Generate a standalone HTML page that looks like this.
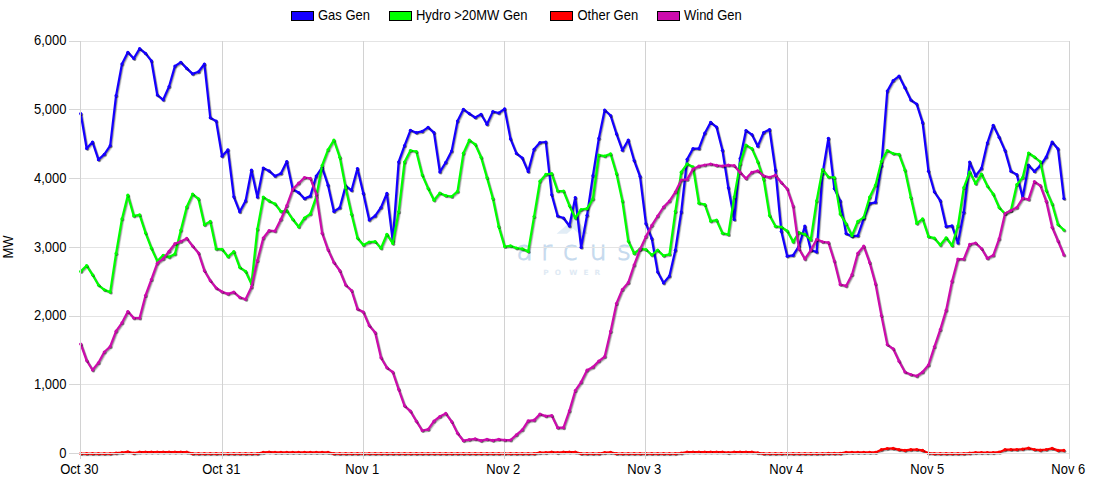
<!DOCTYPE html>
<html><head><meta charset="utf-8"><title>Generation Chart</title>
<style>
html,body{margin:0;padding:0;background:#fff;}
body{width:1100px;height:500px;overflow:hidden;position:relative;}
svg{position:absolute;left:0;top:0;display:block;}
</style></head><body>
<svg width="1100" height="500" viewBox="0 0 1100 500">
<polygon points="556.5,233.8 575.5,217.5 588,233.8 579,233.8 573,228.5 567,233.8" fill="#e2edf6"/>
<text x="516.6 541.1 563.1 589.7 617.1" y="260" font-family="'DejaVu Sans', sans-serif" font-weight="200" font-size="26.7" fill="#c6daee" stroke="#c6daee" stroke-width="0.9">arcus</text>
<text x="543.2 554.8 569.2 583.4 594.6" y="274.6" font-family="'DejaVu Sans', sans-serif" font-weight="bold" font-size="7.3" fill="#e0eaf4">POWER</text>
<polyline points="80.75,453.60 86.64,453.60 92.52,453.60 98.41,453.60 104.30,453.60 110.19,453.60 116.07,453.00 121.96,452.60 127.85,451.80 133.73,453.10 139.62,452.20 145.51,452.20 151.39,452.20 157.28,452.20 163.17,452.20 169.06,452.20 174.94,452.20 180.83,452.20 186.72,452.20 192.60,453.60 198.49,453.60 204.38,453.60 210.26,453.60 216.15,453.60 222.04,453.60 227.92,453.60 233.81,453.60 239.70,453.60 245.59,453.60 251.47,453.60 257.36,453.60 263.25,452.40 269.13,452.00 275.02,452.40 280.91,452.40 286.79,452.40 292.68,452.40 298.57,452.40 304.46,452.40 310.34,452.40 316.23,452.40 322.12,452.40 328.00,452.40 333.89,453.60 339.78,453.60 345.66,453.60 351.55,453.60 357.44,453.60 363.33,453.60 369.21,453.60 375.10,453.60 380.99,453.60 386.87,453.60 392.76,453.60 398.65,453.60 404.53,453.60 410.42,453.60 416.31,453.60 422.20,453.60 428.08,453.60 433.97,453.60 439.86,453.60 445.74,453.60 451.63,453.60 457.52,453.60 463.40,453.60 469.29,453.60 475.18,453.60 481.07,453.60 486.95,453.60 492.84,453.60 498.73,453.60 504.61,453.60 510.50,453.60 516.39,453.60 522.27,453.60 528.16,453.60 534.05,453.60 539.94,452.70 545.82,452.70 551.71,452.00 557.60,452.70 563.48,452.10 569.37,452.10 575.26,452.10 581.14,453.60 587.03,453.60 592.92,453.60 598.81,453.60 604.69,452.70 610.58,452.40 616.47,453.60 622.35,453.60 628.24,453.60 634.13,453.60 640.01,453.60 645.90,453.60 651.79,453.60 657.68,453.60 663.56,453.60 669.45,453.60 675.34,453.60 681.22,453.00 687.11,452.10 693.00,452.10 698.88,452.10 704.77,452.10 710.66,452.10 716.55,452.10 722.43,452.10 728.32,452.70 734.21,452.10 740.09,452.10 745.98,452.10 751.87,452.10 757.75,452.80 763.64,453.60 769.53,453.60 775.42,453.60 781.30,453.60 787.19,453.60 793.08,453.60 798.96,453.60 804.85,453.60 810.74,453.60 816.62,453.60 822.51,453.60 828.40,453.40 834.29,453.40 840.17,453.40 846.06,452.40 851.95,452.40 857.83,452.40 863.72,452.40 869.61,452.40 875.49,452.40 881.38,449.70 887.27,448.50 893.16,448.40 899.04,449.70 904.93,450.40 910.82,449.70 916.70,449.50 922.59,450.40 928.48,453.20 934.36,453.60 940.25,453.60 946.14,453.60 952.03,453.60 957.91,453.60 963.80,453.60 969.69,453.20 975.57,452.70 981.46,452.70 987.35,452.70 993.23,452.70 999.12,452.20 1005.01,449.70 1010.90,449.50 1016.78,449.50 1022.67,449.10 1028.56,448.10 1034.44,449.50 1040.33,450.20 1046.22,449.50 1052.11,448.40 1057.99,450.40 1063.88,450.40" transform="translate(0.70,0.70)" fill="none" stroke="#000" stroke-opacity="0.3" stroke-width="2.25" stroke-linejoin="round" stroke-linecap="round"/>
<polyline points="80.75,453.60 86.64,453.60 92.52,453.60 98.41,453.60 104.30,453.60 110.19,453.60 116.07,453.00 121.96,452.60 127.85,451.80 133.73,453.10 139.62,452.20 145.51,452.20 151.39,452.20 157.28,452.20 163.17,452.20 169.06,452.20 174.94,452.20 180.83,452.20 186.72,452.20 192.60,453.60 198.49,453.60 204.38,453.60 210.26,453.60 216.15,453.60 222.04,453.60 227.92,453.60 233.81,453.60 239.70,453.60 245.59,453.60 251.47,453.60 257.36,453.60 263.25,452.40 269.13,452.00 275.02,452.40 280.91,452.40 286.79,452.40 292.68,452.40 298.57,452.40 304.46,452.40 310.34,452.40 316.23,452.40 322.12,452.40 328.00,452.40 333.89,453.60 339.78,453.60 345.66,453.60 351.55,453.60 357.44,453.60 363.33,453.60 369.21,453.60 375.10,453.60 380.99,453.60 386.87,453.60 392.76,453.60 398.65,453.60 404.53,453.60 410.42,453.60 416.31,453.60 422.20,453.60 428.08,453.60 433.97,453.60 439.86,453.60 445.74,453.60 451.63,453.60 457.52,453.60 463.40,453.60 469.29,453.60 475.18,453.60 481.07,453.60 486.95,453.60 492.84,453.60 498.73,453.60 504.61,453.60 510.50,453.60 516.39,453.60 522.27,453.60 528.16,453.60 534.05,453.60 539.94,452.70 545.82,452.70 551.71,452.00 557.60,452.70 563.48,452.10 569.37,452.10 575.26,452.10 581.14,453.60 587.03,453.60 592.92,453.60 598.81,453.60 604.69,452.70 610.58,452.40 616.47,453.60 622.35,453.60 628.24,453.60 634.13,453.60 640.01,453.60 645.90,453.60 651.79,453.60 657.68,453.60 663.56,453.60 669.45,453.60 675.34,453.60 681.22,453.00 687.11,452.10 693.00,452.10 698.88,452.10 704.77,452.10 710.66,452.10 716.55,452.10 722.43,452.10 728.32,452.70 734.21,452.10 740.09,452.10 745.98,452.10 751.87,452.10 757.75,452.80 763.64,453.60 769.53,453.60 775.42,453.60 781.30,453.60 787.19,453.60 793.08,453.60 798.96,453.60 804.85,453.60 810.74,453.60 816.62,453.60 822.51,453.60 828.40,453.40 834.29,453.40 840.17,453.40 846.06,452.40 851.95,452.40 857.83,452.40 863.72,452.40 869.61,452.40 875.49,452.40 881.38,449.70 887.27,448.50 893.16,448.40 899.04,449.70 904.93,450.40 910.82,449.70 916.70,449.50 922.59,450.40 928.48,453.20 934.36,453.60 940.25,453.60 946.14,453.60 952.03,453.60 957.91,453.60 963.80,453.60 969.69,453.20 975.57,452.70 981.46,452.70 987.35,452.70 993.23,452.70 999.12,452.20 1005.01,449.70 1010.90,449.50 1016.78,449.50 1022.67,449.10 1028.56,448.10 1034.44,449.50 1040.33,450.20 1046.22,449.50 1052.11,448.40 1057.99,450.40 1063.88,450.40" transform="translate(1.40,1.40)" fill="none" stroke="#000" stroke-opacity="0.15" stroke-width="2.25" stroke-linejoin="round" stroke-linecap="round"/>
<polyline points="80.75,453.60 86.64,453.60 92.52,453.60 98.41,453.60 104.30,453.60 110.19,453.60 116.07,453.00 121.96,452.60 127.85,451.80 133.73,453.10 139.62,452.20 145.51,452.20 151.39,452.20 157.28,452.20 163.17,452.20 169.06,452.20 174.94,452.20 180.83,452.20 186.72,452.20 192.60,453.60 198.49,453.60 204.38,453.60 210.26,453.60 216.15,453.60 222.04,453.60 227.92,453.60 233.81,453.60 239.70,453.60 245.59,453.60 251.47,453.60 257.36,453.60 263.25,452.40 269.13,452.00 275.02,452.40 280.91,452.40 286.79,452.40 292.68,452.40 298.57,452.40 304.46,452.40 310.34,452.40 316.23,452.40 322.12,452.40 328.00,452.40 333.89,453.60 339.78,453.60 345.66,453.60 351.55,453.60 357.44,453.60 363.33,453.60 369.21,453.60 375.10,453.60 380.99,453.60 386.87,453.60 392.76,453.60 398.65,453.60 404.53,453.60 410.42,453.60 416.31,453.60 422.20,453.60 428.08,453.60 433.97,453.60 439.86,453.60 445.74,453.60 451.63,453.60 457.52,453.60 463.40,453.60 469.29,453.60 475.18,453.60 481.07,453.60 486.95,453.60 492.84,453.60 498.73,453.60 504.61,453.60 510.50,453.60 516.39,453.60 522.27,453.60 528.16,453.60 534.05,453.60 539.94,452.70 545.82,452.70 551.71,452.00 557.60,452.70 563.48,452.10 569.37,452.10 575.26,452.10 581.14,453.60 587.03,453.60 592.92,453.60 598.81,453.60 604.69,452.70 610.58,452.40 616.47,453.60 622.35,453.60 628.24,453.60 634.13,453.60 640.01,453.60 645.90,453.60 651.79,453.60 657.68,453.60 663.56,453.60 669.45,453.60 675.34,453.60 681.22,453.00 687.11,452.10 693.00,452.10 698.88,452.10 704.77,452.10 710.66,452.10 716.55,452.10 722.43,452.10 728.32,452.70 734.21,452.10 740.09,452.10 745.98,452.10 751.87,452.10 757.75,452.80 763.64,453.60 769.53,453.60 775.42,453.60 781.30,453.60 787.19,453.60 793.08,453.60 798.96,453.60 804.85,453.60 810.74,453.60 816.62,453.60 822.51,453.60 828.40,453.40 834.29,453.40 840.17,453.40 846.06,452.40 851.95,452.40 857.83,452.40 863.72,452.40 869.61,452.40 875.49,452.40 881.38,449.70 887.27,448.50 893.16,448.40 899.04,449.70 904.93,450.40 910.82,449.70 916.70,449.50 922.59,450.40 928.48,453.20 934.36,453.60 940.25,453.60 946.14,453.60 952.03,453.60 957.91,453.60 963.80,453.60 969.69,453.20 975.57,452.70 981.46,452.70 987.35,452.70 993.23,452.70 999.12,452.20 1005.01,449.70 1010.90,449.50 1016.78,449.50 1022.67,449.10 1028.56,448.10 1034.44,449.50 1040.33,450.20 1046.22,449.50 1052.11,448.40 1057.99,450.40 1063.88,450.40" fill="none" stroke="#ff0000" stroke-width="2.25" stroke-linejoin="round" stroke-linecap="round"/>
<g fill="#000" fill-opacity="0.35"><circle cx="81.65" cy="454.50" r="1.6"/><circle cx="87.54" cy="454.50" r="1.6"/><circle cx="93.42" cy="454.50" r="1.6"/><circle cx="99.31" cy="454.50" r="1.6"/><circle cx="105.20" cy="454.50" r="1.6"/><circle cx="111.09" cy="454.50" r="1.6"/><circle cx="116.97" cy="453.90" r="1.6"/><circle cx="122.86" cy="453.50" r="1.6"/><circle cx="128.75" cy="452.70" r="1.6"/><circle cx="134.63" cy="454.00" r="1.6"/><circle cx="140.52" cy="453.10" r="1.6"/><circle cx="146.41" cy="453.10" r="1.6"/><circle cx="152.29" cy="453.10" r="1.6"/><circle cx="158.18" cy="453.10" r="1.6"/><circle cx="164.07" cy="453.10" r="1.6"/><circle cx="169.96" cy="453.10" r="1.6"/><circle cx="175.84" cy="453.10" r="1.6"/><circle cx="181.73" cy="453.10" r="1.6"/><circle cx="187.62" cy="453.10" r="1.6"/><circle cx="193.50" cy="454.50" r="1.6"/><circle cx="199.39" cy="454.50" r="1.6"/><circle cx="205.28" cy="454.50" r="1.6"/><circle cx="211.16" cy="454.50" r="1.6"/><circle cx="217.05" cy="454.50" r="1.6"/><circle cx="222.94" cy="454.50" r="1.6"/><circle cx="228.82" cy="454.50" r="1.6"/><circle cx="234.71" cy="454.50" r="1.6"/><circle cx="240.60" cy="454.50" r="1.6"/><circle cx="246.49" cy="454.50" r="1.6"/><circle cx="252.37" cy="454.50" r="1.6"/><circle cx="258.26" cy="454.50" r="1.6"/><circle cx="264.15" cy="453.30" r="1.6"/><circle cx="270.03" cy="452.90" r="1.6"/><circle cx="275.92" cy="453.30" r="1.6"/><circle cx="281.81" cy="453.30" r="1.6"/><circle cx="287.69" cy="453.30" r="1.6"/><circle cx="293.58" cy="453.30" r="1.6"/><circle cx="299.47" cy="453.30" r="1.6"/><circle cx="305.36" cy="453.30" r="1.6"/><circle cx="311.24" cy="453.30" r="1.6"/><circle cx="317.13" cy="453.30" r="1.6"/><circle cx="323.02" cy="453.30" r="1.6"/><circle cx="328.90" cy="453.30" r="1.6"/><circle cx="334.79" cy="454.50" r="1.6"/><circle cx="340.68" cy="454.50" r="1.6"/><circle cx="346.56" cy="454.50" r="1.6"/><circle cx="352.45" cy="454.50" r="1.6"/><circle cx="358.34" cy="454.50" r="1.6"/><circle cx="364.23" cy="454.50" r="1.6"/><circle cx="370.11" cy="454.50" r="1.6"/><circle cx="376.00" cy="454.50" r="1.6"/><circle cx="381.89" cy="454.50" r="1.6"/><circle cx="387.77" cy="454.50" r="1.6"/><circle cx="393.66" cy="454.50" r="1.6"/><circle cx="399.55" cy="454.50" r="1.6"/><circle cx="405.43" cy="454.50" r="1.6"/><circle cx="411.32" cy="454.50" r="1.6"/><circle cx="417.21" cy="454.50" r="1.6"/><circle cx="423.10" cy="454.50" r="1.6"/><circle cx="428.98" cy="454.50" r="1.6"/><circle cx="434.87" cy="454.50" r="1.6"/><circle cx="440.76" cy="454.50" r="1.6"/><circle cx="446.64" cy="454.50" r="1.6"/><circle cx="452.53" cy="454.50" r="1.6"/><circle cx="458.42" cy="454.50" r="1.6"/><circle cx="464.30" cy="454.50" r="1.6"/><circle cx="470.19" cy="454.50" r="1.6"/><circle cx="476.08" cy="454.50" r="1.6"/><circle cx="481.97" cy="454.50" r="1.6"/><circle cx="487.85" cy="454.50" r="1.6"/><circle cx="493.74" cy="454.50" r="1.6"/><circle cx="499.63" cy="454.50" r="1.6"/><circle cx="505.51" cy="454.50" r="1.6"/><circle cx="511.40" cy="454.50" r="1.6"/><circle cx="517.29" cy="454.50" r="1.6"/><circle cx="523.17" cy="454.50" r="1.6"/><circle cx="529.06" cy="454.50" r="1.6"/><circle cx="534.95" cy="454.50" r="1.6"/><circle cx="540.84" cy="453.60" r="1.6"/><circle cx="546.72" cy="453.60" r="1.6"/><circle cx="552.61" cy="452.90" r="1.6"/><circle cx="558.50" cy="453.60" r="1.6"/><circle cx="564.38" cy="453.00" r="1.6"/><circle cx="570.27" cy="453.00" r="1.6"/><circle cx="576.16" cy="453.00" r="1.6"/><circle cx="582.04" cy="454.50" r="1.6"/><circle cx="587.93" cy="454.50" r="1.6"/><circle cx="593.82" cy="454.50" r="1.6"/><circle cx="599.71" cy="454.50" r="1.6"/><circle cx="605.59" cy="453.60" r="1.6"/><circle cx="611.48" cy="453.30" r="1.6"/><circle cx="617.37" cy="454.50" r="1.6"/><circle cx="623.25" cy="454.50" r="1.6"/><circle cx="629.14" cy="454.50" r="1.6"/><circle cx="635.03" cy="454.50" r="1.6"/><circle cx="640.91" cy="454.50" r="1.6"/><circle cx="646.80" cy="454.50" r="1.6"/><circle cx="652.69" cy="454.50" r="1.6"/><circle cx="658.58" cy="454.50" r="1.6"/><circle cx="664.46" cy="454.50" r="1.6"/><circle cx="670.35" cy="454.50" r="1.6"/><circle cx="676.24" cy="454.50" r="1.6"/><circle cx="682.12" cy="453.90" r="1.6"/><circle cx="688.01" cy="453.00" r="1.6"/><circle cx="693.90" cy="453.00" r="1.6"/><circle cx="699.78" cy="453.00" r="1.6"/><circle cx="705.67" cy="453.00" r="1.6"/><circle cx="711.56" cy="453.00" r="1.6"/><circle cx="717.45" cy="453.00" r="1.6"/><circle cx="723.33" cy="453.00" r="1.6"/><circle cx="729.22" cy="453.60" r="1.6"/><circle cx="735.11" cy="453.00" r="1.6"/><circle cx="740.99" cy="453.00" r="1.6"/><circle cx="746.88" cy="453.00" r="1.6"/><circle cx="752.77" cy="453.00" r="1.6"/><circle cx="758.65" cy="453.70" r="1.6"/><circle cx="764.54" cy="454.50" r="1.6"/><circle cx="770.43" cy="454.50" r="1.6"/><circle cx="776.32" cy="454.50" r="1.6"/><circle cx="782.20" cy="454.50" r="1.6"/><circle cx="788.09" cy="454.50" r="1.6"/><circle cx="793.98" cy="454.50" r="1.6"/><circle cx="799.86" cy="454.50" r="1.6"/><circle cx="805.75" cy="454.50" r="1.6"/><circle cx="811.64" cy="454.50" r="1.6"/><circle cx="817.52" cy="454.50" r="1.6"/><circle cx="823.41" cy="454.50" r="1.6"/><circle cx="829.30" cy="454.30" r="1.6"/><circle cx="835.19" cy="454.30" r="1.6"/><circle cx="841.07" cy="454.30" r="1.6"/><circle cx="846.96" cy="453.30" r="1.6"/><circle cx="852.85" cy="453.30" r="1.6"/><circle cx="858.73" cy="453.30" r="1.6"/><circle cx="864.62" cy="453.30" r="1.6"/><circle cx="870.51" cy="453.30" r="1.6"/><circle cx="876.39" cy="453.30" r="1.6"/><circle cx="882.28" cy="450.60" r="1.6"/><circle cx="888.17" cy="449.40" r="1.6"/><circle cx="894.06" cy="449.30" r="1.6"/><circle cx="899.94" cy="450.60" r="1.6"/><circle cx="905.83" cy="451.30" r="1.6"/><circle cx="911.72" cy="450.60" r="1.6"/><circle cx="917.60" cy="450.40" r="1.6"/><circle cx="923.49" cy="451.30" r="1.6"/><circle cx="929.38" cy="454.10" r="1.6"/><circle cx="935.26" cy="454.50" r="1.6"/><circle cx="941.15" cy="454.50" r="1.6"/><circle cx="947.04" cy="454.50" r="1.6"/><circle cx="952.93" cy="454.50" r="1.6"/><circle cx="958.81" cy="454.50" r="1.6"/><circle cx="964.70" cy="454.50" r="1.6"/><circle cx="970.59" cy="454.10" r="1.6"/><circle cx="976.47" cy="453.60" r="1.6"/><circle cx="982.36" cy="453.60" r="1.6"/><circle cx="988.25" cy="453.60" r="1.6"/><circle cx="994.13" cy="453.60" r="1.6"/><circle cx="1000.02" cy="453.10" r="1.6"/><circle cx="1005.91" cy="450.60" r="1.6"/><circle cx="1011.80" cy="450.40" r="1.6"/><circle cx="1017.68" cy="450.40" r="1.6"/><circle cx="1023.57" cy="450.00" r="1.6"/><circle cx="1029.46" cy="449.00" r="1.6"/><circle cx="1035.34" cy="450.40" r="1.6"/><circle cx="1041.23" cy="451.10" r="1.6"/><circle cx="1047.12" cy="450.40" r="1.6"/><circle cx="1053.01" cy="449.30" r="1.6"/><circle cx="1058.89" cy="451.30" r="1.6"/><circle cx="1064.78" cy="451.30" r="1.6"/></g>
<g fill="#ff0000"><circle cx="80.75" cy="453.60" r="1.6"/><circle cx="86.64" cy="453.60" r="1.6"/><circle cx="92.52" cy="453.60" r="1.6"/><circle cx="98.41" cy="453.60" r="1.6"/><circle cx="104.30" cy="453.60" r="1.6"/><circle cx="110.19" cy="453.60" r="1.6"/><circle cx="116.07" cy="453.00" r="1.6"/><circle cx="121.96" cy="452.60" r="1.6"/><circle cx="127.85" cy="451.80" r="1.6"/><circle cx="133.73" cy="453.10" r="1.6"/><circle cx="139.62" cy="452.20" r="1.6"/><circle cx="145.51" cy="452.20" r="1.6"/><circle cx="151.39" cy="452.20" r="1.6"/><circle cx="157.28" cy="452.20" r="1.6"/><circle cx="163.17" cy="452.20" r="1.6"/><circle cx="169.06" cy="452.20" r="1.6"/><circle cx="174.94" cy="452.20" r="1.6"/><circle cx="180.83" cy="452.20" r="1.6"/><circle cx="186.72" cy="452.20" r="1.6"/><circle cx="192.60" cy="453.60" r="1.6"/><circle cx="198.49" cy="453.60" r="1.6"/><circle cx="204.38" cy="453.60" r="1.6"/><circle cx="210.26" cy="453.60" r="1.6"/><circle cx="216.15" cy="453.60" r="1.6"/><circle cx="222.04" cy="453.60" r="1.6"/><circle cx="227.92" cy="453.60" r="1.6"/><circle cx="233.81" cy="453.60" r="1.6"/><circle cx="239.70" cy="453.60" r="1.6"/><circle cx="245.59" cy="453.60" r="1.6"/><circle cx="251.47" cy="453.60" r="1.6"/><circle cx="257.36" cy="453.60" r="1.6"/><circle cx="263.25" cy="452.40" r="1.6"/><circle cx="269.13" cy="452.00" r="1.6"/><circle cx="275.02" cy="452.40" r="1.6"/><circle cx="280.91" cy="452.40" r="1.6"/><circle cx="286.79" cy="452.40" r="1.6"/><circle cx="292.68" cy="452.40" r="1.6"/><circle cx="298.57" cy="452.40" r="1.6"/><circle cx="304.46" cy="452.40" r="1.6"/><circle cx="310.34" cy="452.40" r="1.6"/><circle cx="316.23" cy="452.40" r="1.6"/><circle cx="322.12" cy="452.40" r="1.6"/><circle cx="328.00" cy="452.40" r="1.6"/><circle cx="333.89" cy="453.60" r="1.6"/><circle cx="339.78" cy="453.60" r="1.6"/><circle cx="345.66" cy="453.60" r="1.6"/><circle cx="351.55" cy="453.60" r="1.6"/><circle cx="357.44" cy="453.60" r="1.6"/><circle cx="363.33" cy="453.60" r="1.6"/><circle cx="369.21" cy="453.60" r="1.6"/><circle cx="375.10" cy="453.60" r="1.6"/><circle cx="380.99" cy="453.60" r="1.6"/><circle cx="386.87" cy="453.60" r="1.6"/><circle cx="392.76" cy="453.60" r="1.6"/><circle cx="398.65" cy="453.60" r="1.6"/><circle cx="404.53" cy="453.60" r="1.6"/><circle cx="410.42" cy="453.60" r="1.6"/><circle cx="416.31" cy="453.60" r="1.6"/><circle cx="422.20" cy="453.60" r="1.6"/><circle cx="428.08" cy="453.60" r="1.6"/><circle cx="433.97" cy="453.60" r="1.6"/><circle cx="439.86" cy="453.60" r="1.6"/><circle cx="445.74" cy="453.60" r="1.6"/><circle cx="451.63" cy="453.60" r="1.6"/><circle cx="457.52" cy="453.60" r="1.6"/><circle cx="463.40" cy="453.60" r="1.6"/><circle cx="469.29" cy="453.60" r="1.6"/><circle cx="475.18" cy="453.60" r="1.6"/><circle cx="481.07" cy="453.60" r="1.6"/><circle cx="486.95" cy="453.60" r="1.6"/><circle cx="492.84" cy="453.60" r="1.6"/><circle cx="498.73" cy="453.60" r="1.6"/><circle cx="504.61" cy="453.60" r="1.6"/><circle cx="510.50" cy="453.60" r="1.6"/><circle cx="516.39" cy="453.60" r="1.6"/><circle cx="522.27" cy="453.60" r="1.6"/><circle cx="528.16" cy="453.60" r="1.6"/><circle cx="534.05" cy="453.60" r="1.6"/><circle cx="539.94" cy="452.70" r="1.6"/><circle cx="545.82" cy="452.70" r="1.6"/><circle cx="551.71" cy="452.00" r="1.6"/><circle cx="557.60" cy="452.70" r="1.6"/><circle cx="563.48" cy="452.10" r="1.6"/><circle cx="569.37" cy="452.10" r="1.6"/><circle cx="575.26" cy="452.10" r="1.6"/><circle cx="581.14" cy="453.60" r="1.6"/><circle cx="587.03" cy="453.60" r="1.6"/><circle cx="592.92" cy="453.60" r="1.6"/><circle cx="598.81" cy="453.60" r="1.6"/><circle cx="604.69" cy="452.70" r="1.6"/><circle cx="610.58" cy="452.40" r="1.6"/><circle cx="616.47" cy="453.60" r="1.6"/><circle cx="622.35" cy="453.60" r="1.6"/><circle cx="628.24" cy="453.60" r="1.6"/><circle cx="634.13" cy="453.60" r="1.6"/><circle cx="640.01" cy="453.60" r="1.6"/><circle cx="645.90" cy="453.60" r="1.6"/><circle cx="651.79" cy="453.60" r="1.6"/><circle cx="657.68" cy="453.60" r="1.6"/><circle cx="663.56" cy="453.60" r="1.6"/><circle cx="669.45" cy="453.60" r="1.6"/><circle cx="675.34" cy="453.60" r="1.6"/><circle cx="681.22" cy="453.00" r="1.6"/><circle cx="687.11" cy="452.10" r="1.6"/><circle cx="693.00" cy="452.10" r="1.6"/><circle cx="698.88" cy="452.10" r="1.6"/><circle cx="704.77" cy="452.10" r="1.6"/><circle cx="710.66" cy="452.10" r="1.6"/><circle cx="716.55" cy="452.10" r="1.6"/><circle cx="722.43" cy="452.10" r="1.6"/><circle cx="728.32" cy="452.70" r="1.6"/><circle cx="734.21" cy="452.10" r="1.6"/><circle cx="740.09" cy="452.10" r="1.6"/><circle cx="745.98" cy="452.10" r="1.6"/><circle cx="751.87" cy="452.10" r="1.6"/><circle cx="757.75" cy="452.80" r="1.6"/><circle cx="763.64" cy="453.60" r="1.6"/><circle cx="769.53" cy="453.60" r="1.6"/><circle cx="775.42" cy="453.60" r="1.6"/><circle cx="781.30" cy="453.60" r="1.6"/><circle cx="787.19" cy="453.60" r="1.6"/><circle cx="793.08" cy="453.60" r="1.6"/><circle cx="798.96" cy="453.60" r="1.6"/><circle cx="804.85" cy="453.60" r="1.6"/><circle cx="810.74" cy="453.60" r="1.6"/><circle cx="816.62" cy="453.60" r="1.6"/><circle cx="822.51" cy="453.60" r="1.6"/><circle cx="828.40" cy="453.40" r="1.6"/><circle cx="834.29" cy="453.40" r="1.6"/><circle cx="840.17" cy="453.40" r="1.6"/><circle cx="846.06" cy="452.40" r="1.6"/><circle cx="851.95" cy="452.40" r="1.6"/><circle cx="857.83" cy="452.40" r="1.6"/><circle cx="863.72" cy="452.40" r="1.6"/><circle cx="869.61" cy="452.40" r="1.6"/><circle cx="875.49" cy="452.40" r="1.6"/><circle cx="881.38" cy="449.70" r="1.6"/><circle cx="887.27" cy="448.50" r="1.6"/><circle cx="893.16" cy="448.40" r="1.6"/><circle cx="899.04" cy="449.70" r="1.6"/><circle cx="904.93" cy="450.40" r="1.6"/><circle cx="910.82" cy="449.70" r="1.6"/><circle cx="916.70" cy="449.50" r="1.6"/><circle cx="922.59" cy="450.40" r="1.6"/><circle cx="928.48" cy="453.20" r="1.6"/><circle cx="934.36" cy="453.60" r="1.6"/><circle cx="940.25" cy="453.60" r="1.6"/><circle cx="946.14" cy="453.60" r="1.6"/><circle cx="952.03" cy="453.60" r="1.6"/><circle cx="957.91" cy="453.60" r="1.6"/><circle cx="963.80" cy="453.60" r="1.6"/><circle cx="969.69" cy="453.20" r="1.6"/><circle cx="975.57" cy="452.70" r="1.6"/><circle cx="981.46" cy="452.70" r="1.6"/><circle cx="987.35" cy="452.70" r="1.6"/><circle cx="993.23" cy="452.70" r="1.6"/><circle cx="999.12" cy="452.20" r="1.6"/><circle cx="1005.01" cy="449.70" r="1.6"/><circle cx="1010.90" cy="449.50" r="1.6"/><circle cx="1016.78" cy="449.50" r="1.6"/><circle cx="1022.67" cy="449.10" r="1.6"/><circle cx="1028.56" cy="448.10" r="1.6"/><circle cx="1034.44" cy="449.50" r="1.6"/><circle cx="1040.33" cy="450.20" r="1.6"/><circle cx="1046.22" cy="449.50" r="1.6"/><circle cx="1052.11" cy="448.40" r="1.6"/><circle cx="1057.99" cy="450.40" r="1.6"/><circle cx="1063.88" cy="450.40" r="1.6"/></g>
<line x1="81" y1="41.5" x2="1069" y2="41.5" stroke="#e4e4e4" stroke-width="1"/><line x1="69" y1="41.5" x2="80" y2="41.5" stroke="#d6d6d6" stroke-width="1"/><line x1="81" y1="109.5" x2="1069" y2="109.5" stroke="#e4e4e4" stroke-width="1"/><line x1="69" y1="109.5" x2="80" y2="109.5" stroke="#d6d6d6" stroke-width="1"/><line x1="81" y1="178.5" x2="1069" y2="178.5" stroke="#e4e4e4" stroke-width="1"/><line x1="69" y1="178.5" x2="80" y2="178.5" stroke="#d6d6d6" stroke-width="1"/><line x1="81" y1="247.5" x2="1069" y2="247.5" stroke="#e4e4e4" stroke-width="1"/><line x1="69" y1="247.5" x2="80" y2="247.5" stroke="#d6d6d6" stroke-width="1"/><line x1="81" y1="316.5" x2="1069" y2="316.5" stroke="#e4e4e4" stroke-width="1"/><line x1="69" y1="316.5" x2="80" y2="316.5" stroke="#d6d6d6" stroke-width="1"/><line x1="81" y1="384.5" x2="1069" y2="384.5" stroke="#e4e4e4" stroke-width="1"/><line x1="69" y1="384.5" x2="80" y2="384.5" stroke="#d6d6d6" stroke-width="1"/><line x1="81" y1="453.5" x2="1069" y2="453.5" stroke="#e4e4e4" stroke-width="1"/><line x1="69" y1="453.5" x2="80" y2="453.5" stroke="#d6d6d6" stroke-width="1"/><line x1="80.5" y1="41" x2="80.5" y2="459" stroke="#d2d2d2" stroke-width="1"/><line x1="222.5" y1="41" x2="222.5" y2="459" stroke="#d2d2d2" stroke-width="1"/><line x1="363.5" y1="41" x2="363.5" y2="459" stroke="#d2d2d2" stroke-width="1"/><line x1="504.5" y1="41" x2="504.5" y2="459" stroke="#d2d2d2" stroke-width="1"/><line x1="645.5" y1="41" x2="645.5" y2="459" stroke="#d2d2d2" stroke-width="1"/><line x1="787.5" y1="41" x2="787.5" y2="459" stroke="#d2d2d2" stroke-width="1"/><line x1="928.5" y1="41" x2="928.5" y2="459" stroke="#d2d2d2" stroke-width="1"/><line x1="1069.5" y1="41" x2="1069.5" y2="459" stroke="#d2d2d2" stroke-width="1"/>
<polyline points="80.75,113.60 86.64,148.40 92.52,142.00 98.41,159.70 104.30,154.30 110.19,145.70 116.07,95.70 121.96,64.00 127.85,52.30 133.73,58.50 139.62,48.60 145.51,53.40 151.39,60.90 157.28,95.00 163.17,99.80 169.06,86.50 174.94,66.10 180.83,62.30 186.72,68.40 192.60,73.90 198.49,71.80 204.38,64.00 210.26,117.70 216.15,121.10 222.04,156.20 227.92,149.80 233.81,196.80 239.70,211.80 245.59,200.90 251.47,170.20 257.36,197.10 263.25,168.00 269.13,170.90 275.02,176.10 280.91,173.40 286.79,161.50 292.68,189.30 298.57,192.50 304.46,198.60 310.34,196.10 316.23,176.10 322.12,167.50 328.00,185.20 333.89,211.50 339.78,207.70 345.66,185.90 351.55,190.30 357.44,168.50 363.33,193.40 369.21,220.00 375.10,215.90 380.99,207.50 386.87,193.40 392.76,241.10 398.65,162.00 404.53,145.70 410.42,130.30 416.31,132.70 422.20,131.40 428.08,127.30 433.97,132.70 439.86,172.00 445.74,162.40 451.63,151.10 457.52,121.10 463.40,109.30 469.29,113.60 475.18,117.50 481.07,114.30 486.95,124.30 492.84,111.60 498.73,113.00 504.61,108.80 510.50,138.90 516.39,153.40 522.27,158.00 528.16,171.60 534.05,149.30 539.94,142.50 545.82,142.00 551.71,194.80 557.60,216.00 563.48,218.00 569.37,226.00 575.26,197.50 581.14,247.30 587.03,215.30 592.92,175.70 598.81,138.40 604.69,110.00 610.58,115.50 616.47,133.90 622.35,150.20 628.24,140.00 634.13,160.50 640.01,176.40 645.90,223.70 651.79,238.60 657.68,272.00 663.56,283.00 669.45,276.10 675.34,250.20 681.22,212.00 687.11,159.30 693.00,148.60 698.88,148.60 704.77,133.20 710.66,122.30 716.55,127.10 722.43,150.30 728.32,187.80 734.21,219.50 740.09,158.50 745.98,130.50 751.87,134.60 757.75,146.20 763.64,132.50 769.53,129.50 775.42,170.00 781.30,231.30 787.19,256.20 793.08,255.30 798.96,246.20 804.85,226.10 810.74,250.00 816.62,252.00 822.51,173.60 828.40,138.30 834.29,188.40 840.17,200.90 846.06,233.60 851.95,236.40 857.83,235.70 863.72,218.60 869.61,203.60 875.49,202.30 881.38,165.70 887.27,91.10 893.16,80.60 899.04,76.10 904.93,87.70 910.82,100.00 916.70,104.10 922.59,122.70 928.48,171.20 934.36,191.80 940.25,200.70 946.14,226.60 952.03,225.90 957.91,243.00 963.80,212.30 969.69,162.10 975.57,175.80 981.46,168.40 987.35,143.00 993.23,125.30 999.12,137.30 1005.01,150.60 1010.90,171.20 1016.78,174.60 1022.67,197.50 1028.56,165.20 1034.44,171.40 1040.33,165.60 1046.22,157.00 1052.11,142.00 1057.99,148.90 1063.88,198.50" transform="translate(0.70,0.70)" fill="none" stroke="#000" stroke-opacity="0.3" stroke-width="2.25" stroke-linejoin="round" stroke-linecap="round"/>
<polyline points="80.75,113.60 86.64,148.40 92.52,142.00 98.41,159.70 104.30,154.30 110.19,145.70 116.07,95.70 121.96,64.00 127.85,52.30 133.73,58.50 139.62,48.60 145.51,53.40 151.39,60.90 157.28,95.00 163.17,99.80 169.06,86.50 174.94,66.10 180.83,62.30 186.72,68.40 192.60,73.90 198.49,71.80 204.38,64.00 210.26,117.70 216.15,121.10 222.04,156.20 227.92,149.80 233.81,196.80 239.70,211.80 245.59,200.90 251.47,170.20 257.36,197.10 263.25,168.00 269.13,170.90 275.02,176.10 280.91,173.40 286.79,161.50 292.68,189.30 298.57,192.50 304.46,198.60 310.34,196.10 316.23,176.10 322.12,167.50 328.00,185.20 333.89,211.50 339.78,207.70 345.66,185.90 351.55,190.30 357.44,168.50 363.33,193.40 369.21,220.00 375.10,215.90 380.99,207.50 386.87,193.40 392.76,241.10 398.65,162.00 404.53,145.70 410.42,130.30 416.31,132.70 422.20,131.40 428.08,127.30 433.97,132.70 439.86,172.00 445.74,162.40 451.63,151.10 457.52,121.10 463.40,109.30 469.29,113.60 475.18,117.50 481.07,114.30 486.95,124.30 492.84,111.60 498.73,113.00 504.61,108.80 510.50,138.90 516.39,153.40 522.27,158.00 528.16,171.60 534.05,149.30 539.94,142.50 545.82,142.00 551.71,194.80 557.60,216.00 563.48,218.00 569.37,226.00 575.26,197.50 581.14,247.30 587.03,215.30 592.92,175.70 598.81,138.40 604.69,110.00 610.58,115.50 616.47,133.90 622.35,150.20 628.24,140.00 634.13,160.50 640.01,176.40 645.90,223.70 651.79,238.60 657.68,272.00 663.56,283.00 669.45,276.10 675.34,250.20 681.22,212.00 687.11,159.30 693.00,148.60 698.88,148.60 704.77,133.20 710.66,122.30 716.55,127.10 722.43,150.30 728.32,187.80 734.21,219.50 740.09,158.50 745.98,130.50 751.87,134.60 757.75,146.20 763.64,132.50 769.53,129.50 775.42,170.00 781.30,231.30 787.19,256.20 793.08,255.30 798.96,246.20 804.85,226.10 810.74,250.00 816.62,252.00 822.51,173.60 828.40,138.30 834.29,188.40 840.17,200.90 846.06,233.60 851.95,236.40 857.83,235.70 863.72,218.60 869.61,203.60 875.49,202.30 881.38,165.70 887.27,91.10 893.16,80.60 899.04,76.10 904.93,87.70 910.82,100.00 916.70,104.10 922.59,122.70 928.48,171.20 934.36,191.80 940.25,200.70 946.14,226.60 952.03,225.90 957.91,243.00 963.80,212.30 969.69,162.10 975.57,175.80 981.46,168.40 987.35,143.00 993.23,125.30 999.12,137.30 1005.01,150.60 1010.90,171.20 1016.78,174.60 1022.67,197.50 1028.56,165.20 1034.44,171.40 1040.33,165.60 1046.22,157.00 1052.11,142.00 1057.99,148.90 1063.88,198.50" transform="translate(1.40,1.40)" fill="none" stroke="#000" stroke-opacity="0.15" stroke-width="2.25" stroke-linejoin="round" stroke-linecap="round"/>
<polyline points="80.75,113.60 86.64,148.40 92.52,142.00 98.41,159.70 104.30,154.30 110.19,145.70 116.07,95.70 121.96,64.00 127.85,52.30 133.73,58.50 139.62,48.60 145.51,53.40 151.39,60.90 157.28,95.00 163.17,99.80 169.06,86.50 174.94,66.10 180.83,62.30 186.72,68.40 192.60,73.90 198.49,71.80 204.38,64.00 210.26,117.70 216.15,121.10 222.04,156.20 227.92,149.80 233.81,196.80 239.70,211.80 245.59,200.90 251.47,170.20 257.36,197.10 263.25,168.00 269.13,170.90 275.02,176.10 280.91,173.40 286.79,161.50 292.68,189.30 298.57,192.50 304.46,198.60 310.34,196.10 316.23,176.10 322.12,167.50 328.00,185.20 333.89,211.50 339.78,207.70 345.66,185.90 351.55,190.30 357.44,168.50 363.33,193.40 369.21,220.00 375.10,215.90 380.99,207.50 386.87,193.40 392.76,241.10 398.65,162.00 404.53,145.70 410.42,130.30 416.31,132.70 422.20,131.40 428.08,127.30 433.97,132.70 439.86,172.00 445.74,162.40 451.63,151.10 457.52,121.10 463.40,109.30 469.29,113.60 475.18,117.50 481.07,114.30 486.95,124.30 492.84,111.60 498.73,113.00 504.61,108.80 510.50,138.90 516.39,153.40 522.27,158.00 528.16,171.60 534.05,149.30 539.94,142.50 545.82,142.00 551.71,194.80 557.60,216.00 563.48,218.00 569.37,226.00 575.26,197.50 581.14,247.30 587.03,215.30 592.92,175.70 598.81,138.40 604.69,110.00 610.58,115.50 616.47,133.90 622.35,150.20 628.24,140.00 634.13,160.50 640.01,176.40 645.90,223.70 651.79,238.60 657.68,272.00 663.56,283.00 669.45,276.10 675.34,250.20 681.22,212.00 687.11,159.30 693.00,148.60 698.88,148.60 704.77,133.20 710.66,122.30 716.55,127.10 722.43,150.30 728.32,187.80 734.21,219.50 740.09,158.50 745.98,130.50 751.87,134.60 757.75,146.20 763.64,132.50 769.53,129.50 775.42,170.00 781.30,231.30 787.19,256.20 793.08,255.30 798.96,246.20 804.85,226.10 810.74,250.00 816.62,252.00 822.51,173.60 828.40,138.30 834.29,188.40 840.17,200.90 846.06,233.60 851.95,236.40 857.83,235.70 863.72,218.60 869.61,203.60 875.49,202.30 881.38,165.70 887.27,91.10 893.16,80.60 899.04,76.10 904.93,87.70 910.82,100.00 916.70,104.10 922.59,122.70 928.48,171.20 934.36,191.80 940.25,200.70 946.14,226.60 952.03,225.90 957.91,243.00 963.80,212.30 969.69,162.10 975.57,175.80 981.46,168.40 987.35,143.00 993.23,125.30 999.12,137.30 1005.01,150.60 1010.90,171.20 1016.78,174.60 1022.67,197.50 1028.56,165.20 1034.44,171.40 1040.33,165.60 1046.22,157.00 1052.11,142.00 1057.99,148.90 1063.88,198.50" fill="none" stroke="#1500ff" stroke-width="2.25" stroke-linejoin="round" stroke-linecap="round"/>
<g fill="#000" fill-opacity="0.35"><circle cx="81.65" cy="114.50" r="1.6"/><circle cx="87.54" cy="149.30" r="1.6"/><circle cx="93.42" cy="142.90" r="1.6"/><circle cx="99.31" cy="160.60" r="1.6"/><circle cx="105.20" cy="155.20" r="1.6"/><circle cx="111.09" cy="146.60" r="1.6"/><circle cx="116.97" cy="96.60" r="1.6"/><circle cx="122.86" cy="64.90" r="1.6"/><circle cx="128.75" cy="53.20" r="1.6"/><circle cx="134.63" cy="59.40" r="1.6"/><circle cx="140.52" cy="49.50" r="1.6"/><circle cx="146.41" cy="54.30" r="1.6"/><circle cx="152.29" cy="61.80" r="1.6"/><circle cx="158.18" cy="95.90" r="1.6"/><circle cx="164.07" cy="100.70" r="1.6"/><circle cx="169.96" cy="87.40" r="1.6"/><circle cx="175.84" cy="67.00" r="1.6"/><circle cx="181.73" cy="63.20" r="1.6"/><circle cx="187.62" cy="69.30" r="1.6"/><circle cx="193.50" cy="74.80" r="1.6"/><circle cx="199.39" cy="72.70" r="1.6"/><circle cx="205.28" cy="64.90" r="1.6"/><circle cx="211.16" cy="118.60" r="1.6"/><circle cx="217.05" cy="122.00" r="1.6"/><circle cx="222.94" cy="157.10" r="1.6"/><circle cx="228.82" cy="150.70" r="1.6"/><circle cx="234.71" cy="197.70" r="1.6"/><circle cx="240.60" cy="212.70" r="1.6"/><circle cx="246.49" cy="201.80" r="1.6"/><circle cx="252.37" cy="171.10" r="1.6"/><circle cx="258.26" cy="198.00" r="1.6"/><circle cx="264.15" cy="168.90" r="1.6"/><circle cx="270.03" cy="171.80" r="1.6"/><circle cx="275.92" cy="177.00" r="1.6"/><circle cx="281.81" cy="174.30" r="1.6"/><circle cx="287.69" cy="162.40" r="1.6"/><circle cx="293.58" cy="190.20" r="1.6"/><circle cx="299.47" cy="193.40" r="1.6"/><circle cx="305.36" cy="199.50" r="1.6"/><circle cx="311.24" cy="197.00" r="1.6"/><circle cx="317.13" cy="177.00" r="1.6"/><circle cx="323.02" cy="168.40" r="1.6"/><circle cx="328.90" cy="186.10" r="1.6"/><circle cx="334.79" cy="212.40" r="1.6"/><circle cx="340.68" cy="208.60" r="1.6"/><circle cx="346.56" cy="186.80" r="1.6"/><circle cx="352.45" cy="191.20" r="1.6"/><circle cx="358.34" cy="169.40" r="1.6"/><circle cx="364.23" cy="194.30" r="1.6"/><circle cx="370.11" cy="220.90" r="1.6"/><circle cx="376.00" cy="216.80" r="1.6"/><circle cx="381.89" cy="208.40" r="1.6"/><circle cx="387.77" cy="194.30" r="1.6"/><circle cx="393.66" cy="242.00" r="1.6"/><circle cx="399.55" cy="162.90" r="1.6"/><circle cx="405.43" cy="146.60" r="1.6"/><circle cx="411.32" cy="131.20" r="1.6"/><circle cx="417.21" cy="133.60" r="1.6"/><circle cx="423.10" cy="132.30" r="1.6"/><circle cx="428.98" cy="128.20" r="1.6"/><circle cx="434.87" cy="133.60" r="1.6"/><circle cx="440.76" cy="172.90" r="1.6"/><circle cx="446.64" cy="163.30" r="1.6"/><circle cx="452.53" cy="152.00" r="1.6"/><circle cx="458.42" cy="122.00" r="1.6"/><circle cx="464.30" cy="110.20" r="1.6"/><circle cx="470.19" cy="114.50" r="1.6"/><circle cx="476.08" cy="118.40" r="1.6"/><circle cx="481.97" cy="115.20" r="1.6"/><circle cx="487.85" cy="125.20" r="1.6"/><circle cx="493.74" cy="112.50" r="1.6"/><circle cx="499.63" cy="113.90" r="1.6"/><circle cx="505.51" cy="109.70" r="1.6"/><circle cx="511.40" cy="139.80" r="1.6"/><circle cx="517.29" cy="154.30" r="1.6"/><circle cx="523.17" cy="158.90" r="1.6"/><circle cx="529.06" cy="172.50" r="1.6"/><circle cx="534.95" cy="150.20" r="1.6"/><circle cx="540.84" cy="143.40" r="1.6"/><circle cx="546.72" cy="142.90" r="1.6"/><circle cx="552.61" cy="195.70" r="1.6"/><circle cx="558.50" cy="216.90" r="1.6"/><circle cx="564.38" cy="218.90" r="1.6"/><circle cx="570.27" cy="226.90" r="1.6"/><circle cx="576.16" cy="198.40" r="1.6"/><circle cx="582.04" cy="248.20" r="1.6"/><circle cx="587.93" cy="216.20" r="1.6"/><circle cx="593.82" cy="176.60" r="1.6"/><circle cx="599.71" cy="139.30" r="1.6"/><circle cx="605.59" cy="110.90" r="1.6"/><circle cx="611.48" cy="116.40" r="1.6"/><circle cx="617.37" cy="134.80" r="1.6"/><circle cx="623.25" cy="151.10" r="1.6"/><circle cx="629.14" cy="140.90" r="1.6"/><circle cx="635.03" cy="161.40" r="1.6"/><circle cx="640.91" cy="177.30" r="1.6"/><circle cx="646.80" cy="224.60" r="1.6"/><circle cx="652.69" cy="239.50" r="1.6"/><circle cx="658.58" cy="272.90" r="1.6"/><circle cx="664.46" cy="283.90" r="1.6"/><circle cx="670.35" cy="277.00" r="1.6"/><circle cx="676.24" cy="251.10" r="1.6"/><circle cx="682.12" cy="212.90" r="1.6"/><circle cx="688.01" cy="160.20" r="1.6"/><circle cx="693.90" cy="149.50" r="1.6"/><circle cx="699.78" cy="149.50" r="1.6"/><circle cx="705.67" cy="134.10" r="1.6"/><circle cx="711.56" cy="123.20" r="1.6"/><circle cx="717.45" cy="128.00" r="1.6"/><circle cx="723.33" cy="151.20" r="1.6"/><circle cx="729.22" cy="188.70" r="1.6"/><circle cx="735.11" cy="220.40" r="1.6"/><circle cx="740.99" cy="159.40" r="1.6"/><circle cx="746.88" cy="131.40" r="1.6"/><circle cx="752.77" cy="135.50" r="1.6"/><circle cx="758.65" cy="147.10" r="1.6"/><circle cx="764.54" cy="133.40" r="1.6"/><circle cx="770.43" cy="130.40" r="1.6"/><circle cx="776.32" cy="170.90" r="1.6"/><circle cx="782.20" cy="232.20" r="1.6"/><circle cx="788.09" cy="257.10" r="1.6"/><circle cx="793.98" cy="256.20" r="1.6"/><circle cx="799.86" cy="247.10" r="1.6"/><circle cx="805.75" cy="227.00" r="1.6"/><circle cx="811.64" cy="250.90" r="1.6"/><circle cx="817.52" cy="252.90" r="1.6"/><circle cx="823.41" cy="174.50" r="1.6"/><circle cx="829.30" cy="139.20" r="1.6"/><circle cx="835.19" cy="189.30" r="1.6"/><circle cx="841.07" cy="201.80" r="1.6"/><circle cx="846.96" cy="234.50" r="1.6"/><circle cx="852.85" cy="237.30" r="1.6"/><circle cx="858.73" cy="236.60" r="1.6"/><circle cx="864.62" cy="219.50" r="1.6"/><circle cx="870.51" cy="204.50" r="1.6"/><circle cx="876.39" cy="203.20" r="1.6"/><circle cx="882.28" cy="166.60" r="1.6"/><circle cx="888.17" cy="92.00" r="1.6"/><circle cx="894.06" cy="81.50" r="1.6"/><circle cx="899.94" cy="77.00" r="1.6"/><circle cx="905.83" cy="88.60" r="1.6"/><circle cx="911.72" cy="100.90" r="1.6"/><circle cx="917.60" cy="105.00" r="1.6"/><circle cx="923.49" cy="123.60" r="1.6"/><circle cx="929.38" cy="172.10" r="1.6"/><circle cx="935.26" cy="192.70" r="1.6"/><circle cx="941.15" cy="201.60" r="1.6"/><circle cx="947.04" cy="227.50" r="1.6"/><circle cx="952.93" cy="226.80" r="1.6"/><circle cx="958.81" cy="243.90" r="1.6"/><circle cx="964.70" cy="213.20" r="1.6"/><circle cx="970.59" cy="163.00" r="1.6"/><circle cx="976.47" cy="176.70" r="1.6"/><circle cx="982.36" cy="169.30" r="1.6"/><circle cx="988.25" cy="143.90" r="1.6"/><circle cx="994.13" cy="126.20" r="1.6"/><circle cx="1000.02" cy="138.20" r="1.6"/><circle cx="1005.91" cy="151.50" r="1.6"/><circle cx="1011.80" cy="172.10" r="1.6"/><circle cx="1017.68" cy="175.50" r="1.6"/><circle cx="1023.57" cy="198.40" r="1.6"/><circle cx="1029.46" cy="166.10" r="1.6"/><circle cx="1035.34" cy="172.30" r="1.6"/><circle cx="1041.23" cy="166.50" r="1.6"/><circle cx="1047.12" cy="157.90" r="1.6"/><circle cx="1053.01" cy="142.90" r="1.6"/><circle cx="1058.89" cy="149.80" r="1.6"/><circle cx="1064.78" cy="199.40" r="1.6"/></g>
<g fill="#1500ff"><circle cx="80.75" cy="113.60" r="1.6"/><circle cx="86.64" cy="148.40" r="1.6"/><circle cx="92.52" cy="142.00" r="1.6"/><circle cx="98.41" cy="159.70" r="1.6"/><circle cx="104.30" cy="154.30" r="1.6"/><circle cx="110.19" cy="145.70" r="1.6"/><circle cx="116.07" cy="95.70" r="1.6"/><circle cx="121.96" cy="64.00" r="1.6"/><circle cx="127.85" cy="52.30" r="1.6"/><circle cx="133.73" cy="58.50" r="1.6"/><circle cx="139.62" cy="48.60" r="1.6"/><circle cx="145.51" cy="53.40" r="1.6"/><circle cx="151.39" cy="60.90" r="1.6"/><circle cx="157.28" cy="95.00" r="1.6"/><circle cx="163.17" cy="99.80" r="1.6"/><circle cx="169.06" cy="86.50" r="1.6"/><circle cx="174.94" cy="66.10" r="1.6"/><circle cx="180.83" cy="62.30" r="1.6"/><circle cx="186.72" cy="68.40" r="1.6"/><circle cx="192.60" cy="73.90" r="1.6"/><circle cx="198.49" cy="71.80" r="1.6"/><circle cx="204.38" cy="64.00" r="1.6"/><circle cx="210.26" cy="117.70" r="1.6"/><circle cx="216.15" cy="121.10" r="1.6"/><circle cx="222.04" cy="156.20" r="1.6"/><circle cx="227.92" cy="149.80" r="1.6"/><circle cx="233.81" cy="196.80" r="1.6"/><circle cx="239.70" cy="211.80" r="1.6"/><circle cx="245.59" cy="200.90" r="1.6"/><circle cx="251.47" cy="170.20" r="1.6"/><circle cx="257.36" cy="197.10" r="1.6"/><circle cx="263.25" cy="168.00" r="1.6"/><circle cx="269.13" cy="170.90" r="1.6"/><circle cx="275.02" cy="176.10" r="1.6"/><circle cx="280.91" cy="173.40" r="1.6"/><circle cx="286.79" cy="161.50" r="1.6"/><circle cx="292.68" cy="189.30" r="1.6"/><circle cx="298.57" cy="192.50" r="1.6"/><circle cx="304.46" cy="198.60" r="1.6"/><circle cx="310.34" cy="196.10" r="1.6"/><circle cx="316.23" cy="176.10" r="1.6"/><circle cx="322.12" cy="167.50" r="1.6"/><circle cx="328.00" cy="185.20" r="1.6"/><circle cx="333.89" cy="211.50" r="1.6"/><circle cx="339.78" cy="207.70" r="1.6"/><circle cx="345.66" cy="185.90" r="1.6"/><circle cx="351.55" cy="190.30" r="1.6"/><circle cx="357.44" cy="168.50" r="1.6"/><circle cx="363.33" cy="193.40" r="1.6"/><circle cx="369.21" cy="220.00" r="1.6"/><circle cx="375.10" cy="215.90" r="1.6"/><circle cx="380.99" cy="207.50" r="1.6"/><circle cx="386.87" cy="193.40" r="1.6"/><circle cx="392.76" cy="241.10" r="1.6"/><circle cx="398.65" cy="162.00" r="1.6"/><circle cx="404.53" cy="145.70" r="1.6"/><circle cx="410.42" cy="130.30" r="1.6"/><circle cx="416.31" cy="132.70" r="1.6"/><circle cx="422.20" cy="131.40" r="1.6"/><circle cx="428.08" cy="127.30" r="1.6"/><circle cx="433.97" cy="132.70" r="1.6"/><circle cx="439.86" cy="172.00" r="1.6"/><circle cx="445.74" cy="162.40" r="1.6"/><circle cx="451.63" cy="151.10" r="1.6"/><circle cx="457.52" cy="121.10" r="1.6"/><circle cx="463.40" cy="109.30" r="1.6"/><circle cx="469.29" cy="113.60" r="1.6"/><circle cx="475.18" cy="117.50" r="1.6"/><circle cx="481.07" cy="114.30" r="1.6"/><circle cx="486.95" cy="124.30" r="1.6"/><circle cx="492.84" cy="111.60" r="1.6"/><circle cx="498.73" cy="113.00" r="1.6"/><circle cx="504.61" cy="108.80" r="1.6"/><circle cx="510.50" cy="138.90" r="1.6"/><circle cx="516.39" cy="153.40" r="1.6"/><circle cx="522.27" cy="158.00" r="1.6"/><circle cx="528.16" cy="171.60" r="1.6"/><circle cx="534.05" cy="149.30" r="1.6"/><circle cx="539.94" cy="142.50" r="1.6"/><circle cx="545.82" cy="142.00" r="1.6"/><circle cx="551.71" cy="194.80" r="1.6"/><circle cx="557.60" cy="216.00" r="1.6"/><circle cx="563.48" cy="218.00" r="1.6"/><circle cx="569.37" cy="226.00" r="1.6"/><circle cx="575.26" cy="197.50" r="1.6"/><circle cx="581.14" cy="247.30" r="1.6"/><circle cx="587.03" cy="215.30" r="1.6"/><circle cx="592.92" cy="175.70" r="1.6"/><circle cx="598.81" cy="138.40" r="1.6"/><circle cx="604.69" cy="110.00" r="1.6"/><circle cx="610.58" cy="115.50" r="1.6"/><circle cx="616.47" cy="133.90" r="1.6"/><circle cx="622.35" cy="150.20" r="1.6"/><circle cx="628.24" cy="140.00" r="1.6"/><circle cx="634.13" cy="160.50" r="1.6"/><circle cx="640.01" cy="176.40" r="1.6"/><circle cx="645.90" cy="223.70" r="1.6"/><circle cx="651.79" cy="238.60" r="1.6"/><circle cx="657.68" cy="272.00" r="1.6"/><circle cx="663.56" cy="283.00" r="1.6"/><circle cx="669.45" cy="276.10" r="1.6"/><circle cx="675.34" cy="250.20" r="1.6"/><circle cx="681.22" cy="212.00" r="1.6"/><circle cx="687.11" cy="159.30" r="1.6"/><circle cx="693.00" cy="148.60" r="1.6"/><circle cx="698.88" cy="148.60" r="1.6"/><circle cx="704.77" cy="133.20" r="1.6"/><circle cx="710.66" cy="122.30" r="1.6"/><circle cx="716.55" cy="127.10" r="1.6"/><circle cx="722.43" cy="150.30" r="1.6"/><circle cx="728.32" cy="187.80" r="1.6"/><circle cx="734.21" cy="219.50" r="1.6"/><circle cx="740.09" cy="158.50" r="1.6"/><circle cx="745.98" cy="130.50" r="1.6"/><circle cx="751.87" cy="134.60" r="1.6"/><circle cx="757.75" cy="146.20" r="1.6"/><circle cx="763.64" cy="132.50" r="1.6"/><circle cx="769.53" cy="129.50" r="1.6"/><circle cx="775.42" cy="170.00" r="1.6"/><circle cx="781.30" cy="231.30" r="1.6"/><circle cx="787.19" cy="256.20" r="1.6"/><circle cx="793.08" cy="255.30" r="1.6"/><circle cx="798.96" cy="246.20" r="1.6"/><circle cx="804.85" cy="226.10" r="1.6"/><circle cx="810.74" cy="250.00" r="1.6"/><circle cx="816.62" cy="252.00" r="1.6"/><circle cx="822.51" cy="173.60" r="1.6"/><circle cx="828.40" cy="138.30" r="1.6"/><circle cx="834.29" cy="188.40" r="1.6"/><circle cx="840.17" cy="200.90" r="1.6"/><circle cx="846.06" cy="233.60" r="1.6"/><circle cx="851.95" cy="236.40" r="1.6"/><circle cx="857.83" cy="235.70" r="1.6"/><circle cx="863.72" cy="218.60" r="1.6"/><circle cx="869.61" cy="203.60" r="1.6"/><circle cx="875.49" cy="202.30" r="1.6"/><circle cx="881.38" cy="165.70" r="1.6"/><circle cx="887.27" cy="91.10" r="1.6"/><circle cx="893.16" cy="80.60" r="1.6"/><circle cx="899.04" cy="76.10" r="1.6"/><circle cx="904.93" cy="87.70" r="1.6"/><circle cx="910.82" cy="100.00" r="1.6"/><circle cx="916.70" cy="104.10" r="1.6"/><circle cx="922.59" cy="122.70" r="1.6"/><circle cx="928.48" cy="171.20" r="1.6"/><circle cx="934.36" cy="191.80" r="1.6"/><circle cx="940.25" cy="200.70" r="1.6"/><circle cx="946.14" cy="226.60" r="1.6"/><circle cx="952.03" cy="225.90" r="1.6"/><circle cx="957.91" cy="243.00" r="1.6"/><circle cx="963.80" cy="212.30" r="1.6"/><circle cx="969.69" cy="162.10" r="1.6"/><circle cx="975.57" cy="175.80" r="1.6"/><circle cx="981.46" cy="168.40" r="1.6"/><circle cx="987.35" cy="143.00" r="1.6"/><circle cx="993.23" cy="125.30" r="1.6"/><circle cx="999.12" cy="137.30" r="1.6"/><circle cx="1005.01" cy="150.60" r="1.6"/><circle cx="1010.90" cy="171.20" r="1.6"/><circle cx="1016.78" cy="174.60" r="1.6"/><circle cx="1022.67" cy="197.50" r="1.6"/><circle cx="1028.56" cy="165.20" r="1.6"/><circle cx="1034.44" cy="171.40" r="1.6"/><circle cx="1040.33" cy="165.60" r="1.6"/><circle cx="1046.22" cy="157.00" r="1.6"/><circle cx="1052.11" cy="142.00" r="1.6"/><circle cx="1057.99" cy="148.90" r="1.6"/><circle cx="1063.88" cy="198.50" r="1.6"/></g>
<polyline points="80.75,271.40 86.64,265.60 92.52,274.80 98.41,285.00 104.30,289.80 110.19,292.10 116.07,253.40 121.96,218.90 127.85,195.20 133.73,215.90 139.62,214.80 145.51,232.90 151.39,248.20 157.28,261.10 163.17,255.30 169.06,257.00 174.94,253.90 180.83,230.20 186.72,207.00 192.60,194.10 198.49,198.90 204.38,224.80 210.26,221.40 216.15,248.90 222.04,249.30 227.92,256.60 233.81,251.60 239.70,267.30 245.59,271.40 251.47,283.90 257.36,229.10 263.25,197.10 269.13,200.90 275.02,203.90 280.91,211.50 286.79,210.70 292.68,219.30 298.57,226.80 304.46,218.00 310.34,213.90 316.23,196.80 322.12,165.50 328.00,149.80 333.89,140.20 339.78,157.30 345.66,188.00 351.55,214.30 357.44,238.00 363.33,245.00 369.21,242.00 375.10,241.60 380.99,248.20 386.87,234.30 392.76,243.40 398.65,211.80 404.53,162.00 410.42,150.50 416.31,151.50 422.20,175.00 428.08,188.40 433.97,200.20 439.86,193.00 445.74,195.70 451.63,196.50 457.52,191.40 463.40,153.20 469.29,140.20 475.18,144.30 481.07,157.30 486.95,177.70 492.84,198.50 498.73,226.60 504.61,246.60 510.50,245.90 516.39,248.00 522.27,248.90 528.16,251.40 534.05,216.60 539.94,181.20 545.82,174.40 551.71,173.70 557.60,191.00 563.48,191.00 569.37,205.70 575.26,218.00 581.14,209.50 587.03,208.70 592.92,198.90 598.81,155.00 604.69,156.10 610.58,153.90 616.47,173.70 622.35,201.00 628.24,241.10 634.13,253.40 640.01,248.90 645.90,249.50 651.79,255.00 657.68,250.20 663.56,255.70 669.45,254.30 675.34,211.40 681.22,172.20 687.11,163.90 693.00,166.90 698.88,203.20 704.77,204.50 710.66,221.20 716.55,220.20 722.43,233.20 728.32,234.50 734.21,197.00 740.09,163.90 745.98,145.10 751.87,148.60 757.75,161.90 763.64,179.30 769.53,215.50 775.42,226.30 781.30,227.00 787.19,231.00 793.08,241.80 798.96,232.50 804.85,234.30 810.74,239.80 816.62,200.90 822.51,169.50 828.40,177.00 834.29,177.50 840.17,213.90 846.06,223.80 851.95,235.70 857.83,221.40 863.72,217.30 869.61,197.20 875.49,185.20 881.38,161.60 887.27,150.50 893.16,153.50 899.04,154.30 904.93,170.20 910.82,197.50 916.70,223.40 922.59,218.90 928.48,236.60 934.36,238.20 940.25,245.00 946.14,237.80 952.03,245.50 957.91,225.90 963.80,187.70 969.69,172.00 975.57,183.60 981.46,174.10 987.35,186.10 993.23,194.20 999.12,207.50 1005.01,213.80 1010.90,210.50 1016.78,184.70 1022.67,177.50 1028.56,153.00 1034.44,157.00 1040.33,161.80 1046.22,190.50 1052.11,204.00 1057.99,224.50 1063.88,230.00" transform="translate(0.70,0.70)" fill="none" stroke="#000" stroke-opacity="0.3" stroke-width="2.25" stroke-linejoin="round" stroke-linecap="round"/>
<polyline points="80.75,271.40 86.64,265.60 92.52,274.80 98.41,285.00 104.30,289.80 110.19,292.10 116.07,253.40 121.96,218.90 127.85,195.20 133.73,215.90 139.62,214.80 145.51,232.90 151.39,248.20 157.28,261.10 163.17,255.30 169.06,257.00 174.94,253.90 180.83,230.20 186.72,207.00 192.60,194.10 198.49,198.90 204.38,224.80 210.26,221.40 216.15,248.90 222.04,249.30 227.92,256.60 233.81,251.60 239.70,267.30 245.59,271.40 251.47,283.90 257.36,229.10 263.25,197.10 269.13,200.90 275.02,203.90 280.91,211.50 286.79,210.70 292.68,219.30 298.57,226.80 304.46,218.00 310.34,213.90 316.23,196.80 322.12,165.50 328.00,149.80 333.89,140.20 339.78,157.30 345.66,188.00 351.55,214.30 357.44,238.00 363.33,245.00 369.21,242.00 375.10,241.60 380.99,248.20 386.87,234.30 392.76,243.40 398.65,211.80 404.53,162.00 410.42,150.50 416.31,151.50 422.20,175.00 428.08,188.40 433.97,200.20 439.86,193.00 445.74,195.70 451.63,196.50 457.52,191.40 463.40,153.20 469.29,140.20 475.18,144.30 481.07,157.30 486.95,177.70 492.84,198.50 498.73,226.60 504.61,246.60 510.50,245.90 516.39,248.00 522.27,248.90 528.16,251.40 534.05,216.60 539.94,181.20 545.82,174.40 551.71,173.70 557.60,191.00 563.48,191.00 569.37,205.70 575.26,218.00 581.14,209.50 587.03,208.70 592.92,198.90 598.81,155.00 604.69,156.10 610.58,153.90 616.47,173.70 622.35,201.00 628.24,241.10 634.13,253.40 640.01,248.90 645.90,249.50 651.79,255.00 657.68,250.20 663.56,255.70 669.45,254.30 675.34,211.40 681.22,172.20 687.11,163.90 693.00,166.90 698.88,203.20 704.77,204.50 710.66,221.20 716.55,220.20 722.43,233.20 728.32,234.50 734.21,197.00 740.09,163.90 745.98,145.10 751.87,148.60 757.75,161.90 763.64,179.30 769.53,215.50 775.42,226.30 781.30,227.00 787.19,231.00 793.08,241.80 798.96,232.50 804.85,234.30 810.74,239.80 816.62,200.90 822.51,169.50 828.40,177.00 834.29,177.50 840.17,213.90 846.06,223.80 851.95,235.70 857.83,221.40 863.72,217.30 869.61,197.20 875.49,185.20 881.38,161.60 887.27,150.50 893.16,153.50 899.04,154.30 904.93,170.20 910.82,197.50 916.70,223.40 922.59,218.90 928.48,236.60 934.36,238.20 940.25,245.00 946.14,237.80 952.03,245.50 957.91,225.90 963.80,187.70 969.69,172.00 975.57,183.60 981.46,174.10 987.35,186.10 993.23,194.20 999.12,207.50 1005.01,213.80 1010.90,210.50 1016.78,184.70 1022.67,177.50 1028.56,153.00 1034.44,157.00 1040.33,161.80 1046.22,190.50 1052.11,204.00 1057.99,224.50 1063.88,230.00" transform="translate(1.40,1.40)" fill="none" stroke="#000" stroke-opacity="0.15" stroke-width="2.25" stroke-linejoin="round" stroke-linecap="round"/>
<polyline points="80.75,271.40 86.64,265.60 92.52,274.80 98.41,285.00 104.30,289.80 110.19,292.10 116.07,253.40 121.96,218.90 127.85,195.20 133.73,215.90 139.62,214.80 145.51,232.90 151.39,248.20 157.28,261.10 163.17,255.30 169.06,257.00 174.94,253.90 180.83,230.20 186.72,207.00 192.60,194.10 198.49,198.90 204.38,224.80 210.26,221.40 216.15,248.90 222.04,249.30 227.92,256.60 233.81,251.60 239.70,267.30 245.59,271.40 251.47,283.90 257.36,229.10 263.25,197.10 269.13,200.90 275.02,203.90 280.91,211.50 286.79,210.70 292.68,219.30 298.57,226.80 304.46,218.00 310.34,213.90 316.23,196.80 322.12,165.50 328.00,149.80 333.89,140.20 339.78,157.30 345.66,188.00 351.55,214.30 357.44,238.00 363.33,245.00 369.21,242.00 375.10,241.60 380.99,248.20 386.87,234.30 392.76,243.40 398.65,211.80 404.53,162.00 410.42,150.50 416.31,151.50 422.20,175.00 428.08,188.40 433.97,200.20 439.86,193.00 445.74,195.70 451.63,196.50 457.52,191.40 463.40,153.20 469.29,140.20 475.18,144.30 481.07,157.30 486.95,177.70 492.84,198.50 498.73,226.60 504.61,246.60 510.50,245.90 516.39,248.00 522.27,248.90 528.16,251.40 534.05,216.60 539.94,181.20 545.82,174.40 551.71,173.70 557.60,191.00 563.48,191.00 569.37,205.70 575.26,218.00 581.14,209.50 587.03,208.70 592.92,198.90 598.81,155.00 604.69,156.10 610.58,153.90 616.47,173.70 622.35,201.00 628.24,241.10 634.13,253.40 640.01,248.90 645.90,249.50 651.79,255.00 657.68,250.20 663.56,255.70 669.45,254.30 675.34,211.40 681.22,172.20 687.11,163.90 693.00,166.90 698.88,203.20 704.77,204.50 710.66,221.20 716.55,220.20 722.43,233.20 728.32,234.50 734.21,197.00 740.09,163.90 745.98,145.10 751.87,148.60 757.75,161.90 763.64,179.30 769.53,215.50 775.42,226.30 781.30,227.00 787.19,231.00 793.08,241.80 798.96,232.50 804.85,234.30 810.74,239.80 816.62,200.90 822.51,169.50 828.40,177.00 834.29,177.50 840.17,213.90 846.06,223.80 851.95,235.70 857.83,221.40 863.72,217.30 869.61,197.20 875.49,185.20 881.38,161.60 887.27,150.50 893.16,153.50 899.04,154.30 904.93,170.20 910.82,197.50 916.70,223.40 922.59,218.90 928.48,236.60 934.36,238.20 940.25,245.00 946.14,237.80 952.03,245.50 957.91,225.90 963.80,187.70 969.69,172.00 975.57,183.60 981.46,174.10 987.35,186.10 993.23,194.20 999.12,207.50 1005.01,213.80 1010.90,210.50 1016.78,184.70 1022.67,177.50 1028.56,153.00 1034.44,157.00 1040.33,161.80 1046.22,190.50 1052.11,204.00 1057.99,224.50 1063.88,230.00" fill="none" stroke="#00ff00" stroke-width="2.25" stroke-linejoin="round" stroke-linecap="round"/>
<g fill="#000" fill-opacity="0.35"><circle cx="81.65" cy="272.30" r="1.6"/><circle cx="87.54" cy="266.50" r="1.6"/><circle cx="93.42" cy="275.70" r="1.6"/><circle cx="99.31" cy="285.90" r="1.6"/><circle cx="105.20" cy="290.70" r="1.6"/><circle cx="111.09" cy="293.00" r="1.6"/><circle cx="116.97" cy="254.30" r="1.6"/><circle cx="122.86" cy="219.80" r="1.6"/><circle cx="128.75" cy="196.10" r="1.6"/><circle cx="134.63" cy="216.80" r="1.6"/><circle cx="140.52" cy="215.70" r="1.6"/><circle cx="146.41" cy="233.80" r="1.6"/><circle cx="152.29" cy="249.10" r="1.6"/><circle cx="158.18" cy="262.00" r="1.6"/><circle cx="164.07" cy="256.20" r="1.6"/><circle cx="169.96" cy="257.90" r="1.6"/><circle cx="175.84" cy="254.80" r="1.6"/><circle cx="181.73" cy="231.10" r="1.6"/><circle cx="187.62" cy="207.90" r="1.6"/><circle cx="193.50" cy="195.00" r="1.6"/><circle cx="199.39" cy="199.80" r="1.6"/><circle cx="205.28" cy="225.70" r="1.6"/><circle cx="211.16" cy="222.30" r="1.6"/><circle cx="217.05" cy="249.80" r="1.6"/><circle cx="222.94" cy="250.20" r="1.6"/><circle cx="228.82" cy="257.50" r="1.6"/><circle cx="234.71" cy="252.50" r="1.6"/><circle cx="240.60" cy="268.20" r="1.6"/><circle cx="246.49" cy="272.30" r="1.6"/><circle cx="252.37" cy="284.80" r="1.6"/><circle cx="258.26" cy="230.00" r="1.6"/><circle cx="264.15" cy="198.00" r="1.6"/><circle cx="270.03" cy="201.80" r="1.6"/><circle cx="275.92" cy="204.80" r="1.6"/><circle cx="281.81" cy="212.40" r="1.6"/><circle cx="287.69" cy="211.60" r="1.6"/><circle cx="293.58" cy="220.20" r="1.6"/><circle cx="299.47" cy="227.70" r="1.6"/><circle cx="305.36" cy="218.90" r="1.6"/><circle cx="311.24" cy="214.80" r="1.6"/><circle cx="317.13" cy="197.70" r="1.6"/><circle cx="323.02" cy="166.40" r="1.6"/><circle cx="328.90" cy="150.70" r="1.6"/><circle cx="334.79" cy="141.10" r="1.6"/><circle cx="340.68" cy="158.20" r="1.6"/><circle cx="346.56" cy="188.90" r="1.6"/><circle cx="352.45" cy="215.20" r="1.6"/><circle cx="358.34" cy="238.90" r="1.6"/><circle cx="364.23" cy="245.90" r="1.6"/><circle cx="370.11" cy="242.90" r="1.6"/><circle cx="376.00" cy="242.50" r="1.6"/><circle cx="381.89" cy="249.10" r="1.6"/><circle cx="387.77" cy="235.20" r="1.6"/><circle cx="393.66" cy="244.30" r="1.6"/><circle cx="399.55" cy="212.70" r="1.6"/><circle cx="405.43" cy="162.90" r="1.6"/><circle cx="411.32" cy="151.40" r="1.6"/><circle cx="417.21" cy="152.40" r="1.6"/><circle cx="423.10" cy="175.90" r="1.6"/><circle cx="428.98" cy="189.30" r="1.6"/><circle cx="434.87" cy="201.10" r="1.6"/><circle cx="440.76" cy="193.90" r="1.6"/><circle cx="446.64" cy="196.60" r="1.6"/><circle cx="452.53" cy="197.40" r="1.6"/><circle cx="458.42" cy="192.30" r="1.6"/><circle cx="464.30" cy="154.10" r="1.6"/><circle cx="470.19" cy="141.10" r="1.6"/><circle cx="476.08" cy="145.20" r="1.6"/><circle cx="481.97" cy="158.20" r="1.6"/><circle cx="487.85" cy="178.60" r="1.6"/><circle cx="493.74" cy="199.40" r="1.6"/><circle cx="499.63" cy="227.50" r="1.6"/><circle cx="505.51" cy="247.50" r="1.6"/><circle cx="511.40" cy="246.80" r="1.6"/><circle cx="517.29" cy="248.90" r="1.6"/><circle cx="523.17" cy="249.80" r="1.6"/><circle cx="529.06" cy="252.30" r="1.6"/><circle cx="534.95" cy="217.50" r="1.6"/><circle cx="540.84" cy="182.10" r="1.6"/><circle cx="546.72" cy="175.30" r="1.6"/><circle cx="552.61" cy="174.60" r="1.6"/><circle cx="558.50" cy="191.90" r="1.6"/><circle cx="564.38" cy="191.90" r="1.6"/><circle cx="570.27" cy="206.60" r="1.6"/><circle cx="576.16" cy="218.90" r="1.6"/><circle cx="582.04" cy="210.40" r="1.6"/><circle cx="587.93" cy="209.60" r="1.6"/><circle cx="593.82" cy="199.80" r="1.6"/><circle cx="599.71" cy="155.90" r="1.6"/><circle cx="605.59" cy="157.00" r="1.6"/><circle cx="611.48" cy="154.80" r="1.6"/><circle cx="617.37" cy="174.60" r="1.6"/><circle cx="623.25" cy="201.90" r="1.6"/><circle cx="629.14" cy="242.00" r="1.6"/><circle cx="635.03" cy="254.30" r="1.6"/><circle cx="640.91" cy="249.80" r="1.6"/><circle cx="646.80" cy="250.40" r="1.6"/><circle cx="652.69" cy="255.90" r="1.6"/><circle cx="658.58" cy="251.10" r="1.6"/><circle cx="664.46" cy="256.60" r="1.6"/><circle cx="670.35" cy="255.20" r="1.6"/><circle cx="676.24" cy="212.30" r="1.6"/><circle cx="682.12" cy="173.10" r="1.6"/><circle cx="688.01" cy="164.80" r="1.6"/><circle cx="693.90" cy="167.80" r="1.6"/><circle cx="699.78" cy="204.10" r="1.6"/><circle cx="705.67" cy="205.40" r="1.6"/><circle cx="711.56" cy="222.10" r="1.6"/><circle cx="717.45" cy="221.10" r="1.6"/><circle cx="723.33" cy="234.10" r="1.6"/><circle cx="729.22" cy="235.40" r="1.6"/><circle cx="735.11" cy="197.90" r="1.6"/><circle cx="740.99" cy="164.80" r="1.6"/><circle cx="746.88" cy="146.00" r="1.6"/><circle cx="752.77" cy="149.50" r="1.6"/><circle cx="758.65" cy="162.80" r="1.6"/><circle cx="764.54" cy="180.20" r="1.6"/><circle cx="770.43" cy="216.40" r="1.6"/><circle cx="776.32" cy="227.20" r="1.6"/><circle cx="782.20" cy="227.90" r="1.6"/><circle cx="788.09" cy="231.90" r="1.6"/><circle cx="793.98" cy="242.70" r="1.6"/><circle cx="799.86" cy="233.40" r="1.6"/><circle cx="805.75" cy="235.20" r="1.6"/><circle cx="811.64" cy="240.70" r="1.6"/><circle cx="817.52" cy="201.80" r="1.6"/><circle cx="823.41" cy="170.40" r="1.6"/><circle cx="829.30" cy="177.90" r="1.6"/><circle cx="835.19" cy="178.40" r="1.6"/><circle cx="841.07" cy="214.80" r="1.6"/><circle cx="846.96" cy="224.70" r="1.6"/><circle cx="852.85" cy="236.60" r="1.6"/><circle cx="858.73" cy="222.30" r="1.6"/><circle cx="864.62" cy="218.20" r="1.6"/><circle cx="870.51" cy="198.10" r="1.6"/><circle cx="876.39" cy="186.10" r="1.6"/><circle cx="882.28" cy="162.50" r="1.6"/><circle cx="888.17" cy="151.40" r="1.6"/><circle cx="894.06" cy="154.40" r="1.6"/><circle cx="899.94" cy="155.20" r="1.6"/><circle cx="905.83" cy="171.10" r="1.6"/><circle cx="911.72" cy="198.40" r="1.6"/><circle cx="917.60" cy="224.30" r="1.6"/><circle cx="923.49" cy="219.80" r="1.6"/><circle cx="929.38" cy="237.50" r="1.6"/><circle cx="935.26" cy="239.10" r="1.6"/><circle cx="941.15" cy="245.90" r="1.6"/><circle cx="947.04" cy="238.70" r="1.6"/><circle cx="952.93" cy="246.40" r="1.6"/><circle cx="958.81" cy="226.80" r="1.6"/><circle cx="964.70" cy="188.60" r="1.6"/><circle cx="970.59" cy="172.90" r="1.6"/><circle cx="976.47" cy="184.50" r="1.6"/><circle cx="982.36" cy="175.00" r="1.6"/><circle cx="988.25" cy="187.00" r="1.6"/><circle cx="994.13" cy="195.10" r="1.6"/><circle cx="1000.02" cy="208.40" r="1.6"/><circle cx="1005.91" cy="214.70" r="1.6"/><circle cx="1011.80" cy="211.40" r="1.6"/><circle cx="1017.68" cy="185.60" r="1.6"/><circle cx="1023.57" cy="178.40" r="1.6"/><circle cx="1029.46" cy="153.90" r="1.6"/><circle cx="1035.34" cy="157.90" r="1.6"/><circle cx="1041.23" cy="162.70" r="1.6"/><circle cx="1047.12" cy="191.40" r="1.6"/><circle cx="1053.01" cy="204.90" r="1.6"/><circle cx="1058.89" cy="225.40" r="1.6"/><circle cx="1064.78" cy="230.90" r="1.6"/></g>
<g fill="#00ff00"><circle cx="80.75" cy="271.40" r="1.6"/><circle cx="86.64" cy="265.60" r="1.6"/><circle cx="92.52" cy="274.80" r="1.6"/><circle cx="98.41" cy="285.00" r="1.6"/><circle cx="104.30" cy="289.80" r="1.6"/><circle cx="110.19" cy="292.10" r="1.6"/><circle cx="116.07" cy="253.40" r="1.6"/><circle cx="121.96" cy="218.90" r="1.6"/><circle cx="127.85" cy="195.20" r="1.6"/><circle cx="133.73" cy="215.90" r="1.6"/><circle cx="139.62" cy="214.80" r="1.6"/><circle cx="145.51" cy="232.90" r="1.6"/><circle cx="151.39" cy="248.20" r="1.6"/><circle cx="157.28" cy="261.10" r="1.6"/><circle cx="163.17" cy="255.30" r="1.6"/><circle cx="169.06" cy="257.00" r="1.6"/><circle cx="174.94" cy="253.90" r="1.6"/><circle cx="180.83" cy="230.20" r="1.6"/><circle cx="186.72" cy="207.00" r="1.6"/><circle cx="192.60" cy="194.10" r="1.6"/><circle cx="198.49" cy="198.90" r="1.6"/><circle cx="204.38" cy="224.80" r="1.6"/><circle cx="210.26" cy="221.40" r="1.6"/><circle cx="216.15" cy="248.90" r="1.6"/><circle cx="222.04" cy="249.30" r="1.6"/><circle cx="227.92" cy="256.60" r="1.6"/><circle cx="233.81" cy="251.60" r="1.6"/><circle cx="239.70" cy="267.30" r="1.6"/><circle cx="245.59" cy="271.40" r="1.6"/><circle cx="251.47" cy="283.90" r="1.6"/><circle cx="257.36" cy="229.10" r="1.6"/><circle cx="263.25" cy="197.10" r="1.6"/><circle cx="269.13" cy="200.90" r="1.6"/><circle cx="275.02" cy="203.90" r="1.6"/><circle cx="280.91" cy="211.50" r="1.6"/><circle cx="286.79" cy="210.70" r="1.6"/><circle cx="292.68" cy="219.30" r="1.6"/><circle cx="298.57" cy="226.80" r="1.6"/><circle cx="304.46" cy="218.00" r="1.6"/><circle cx="310.34" cy="213.90" r="1.6"/><circle cx="316.23" cy="196.80" r="1.6"/><circle cx="322.12" cy="165.50" r="1.6"/><circle cx="328.00" cy="149.80" r="1.6"/><circle cx="333.89" cy="140.20" r="1.6"/><circle cx="339.78" cy="157.30" r="1.6"/><circle cx="345.66" cy="188.00" r="1.6"/><circle cx="351.55" cy="214.30" r="1.6"/><circle cx="357.44" cy="238.00" r="1.6"/><circle cx="363.33" cy="245.00" r="1.6"/><circle cx="369.21" cy="242.00" r="1.6"/><circle cx="375.10" cy="241.60" r="1.6"/><circle cx="380.99" cy="248.20" r="1.6"/><circle cx="386.87" cy="234.30" r="1.6"/><circle cx="392.76" cy="243.40" r="1.6"/><circle cx="398.65" cy="211.80" r="1.6"/><circle cx="404.53" cy="162.00" r="1.6"/><circle cx="410.42" cy="150.50" r="1.6"/><circle cx="416.31" cy="151.50" r="1.6"/><circle cx="422.20" cy="175.00" r="1.6"/><circle cx="428.08" cy="188.40" r="1.6"/><circle cx="433.97" cy="200.20" r="1.6"/><circle cx="439.86" cy="193.00" r="1.6"/><circle cx="445.74" cy="195.70" r="1.6"/><circle cx="451.63" cy="196.50" r="1.6"/><circle cx="457.52" cy="191.40" r="1.6"/><circle cx="463.40" cy="153.20" r="1.6"/><circle cx="469.29" cy="140.20" r="1.6"/><circle cx="475.18" cy="144.30" r="1.6"/><circle cx="481.07" cy="157.30" r="1.6"/><circle cx="486.95" cy="177.70" r="1.6"/><circle cx="492.84" cy="198.50" r="1.6"/><circle cx="498.73" cy="226.60" r="1.6"/><circle cx="504.61" cy="246.60" r="1.6"/><circle cx="510.50" cy="245.90" r="1.6"/><circle cx="516.39" cy="248.00" r="1.6"/><circle cx="522.27" cy="248.90" r="1.6"/><circle cx="528.16" cy="251.40" r="1.6"/><circle cx="534.05" cy="216.60" r="1.6"/><circle cx="539.94" cy="181.20" r="1.6"/><circle cx="545.82" cy="174.40" r="1.6"/><circle cx="551.71" cy="173.70" r="1.6"/><circle cx="557.60" cy="191.00" r="1.6"/><circle cx="563.48" cy="191.00" r="1.6"/><circle cx="569.37" cy="205.70" r="1.6"/><circle cx="575.26" cy="218.00" r="1.6"/><circle cx="581.14" cy="209.50" r="1.6"/><circle cx="587.03" cy="208.70" r="1.6"/><circle cx="592.92" cy="198.90" r="1.6"/><circle cx="598.81" cy="155.00" r="1.6"/><circle cx="604.69" cy="156.10" r="1.6"/><circle cx="610.58" cy="153.90" r="1.6"/><circle cx="616.47" cy="173.70" r="1.6"/><circle cx="622.35" cy="201.00" r="1.6"/><circle cx="628.24" cy="241.10" r="1.6"/><circle cx="634.13" cy="253.40" r="1.6"/><circle cx="640.01" cy="248.90" r="1.6"/><circle cx="645.90" cy="249.50" r="1.6"/><circle cx="651.79" cy="255.00" r="1.6"/><circle cx="657.68" cy="250.20" r="1.6"/><circle cx="663.56" cy="255.70" r="1.6"/><circle cx="669.45" cy="254.30" r="1.6"/><circle cx="675.34" cy="211.40" r="1.6"/><circle cx="681.22" cy="172.20" r="1.6"/><circle cx="687.11" cy="163.90" r="1.6"/><circle cx="693.00" cy="166.90" r="1.6"/><circle cx="698.88" cy="203.20" r="1.6"/><circle cx="704.77" cy="204.50" r="1.6"/><circle cx="710.66" cy="221.20" r="1.6"/><circle cx="716.55" cy="220.20" r="1.6"/><circle cx="722.43" cy="233.20" r="1.6"/><circle cx="728.32" cy="234.50" r="1.6"/><circle cx="734.21" cy="197.00" r="1.6"/><circle cx="740.09" cy="163.90" r="1.6"/><circle cx="745.98" cy="145.10" r="1.6"/><circle cx="751.87" cy="148.60" r="1.6"/><circle cx="757.75" cy="161.90" r="1.6"/><circle cx="763.64" cy="179.30" r="1.6"/><circle cx="769.53" cy="215.50" r="1.6"/><circle cx="775.42" cy="226.30" r="1.6"/><circle cx="781.30" cy="227.00" r="1.6"/><circle cx="787.19" cy="231.00" r="1.6"/><circle cx="793.08" cy="241.80" r="1.6"/><circle cx="798.96" cy="232.50" r="1.6"/><circle cx="804.85" cy="234.30" r="1.6"/><circle cx="810.74" cy="239.80" r="1.6"/><circle cx="816.62" cy="200.90" r="1.6"/><circle cx="822.51" cy="169.50" r="1.6"/><circle cx="828.40" cy="177.00" r="1.6"/><circle cx="834.29" cy="177.50" r="1.6"/><circle cx="840.17" cy="213.90" r="1.6"/><circle cx="846.06" cy="223.80" r="1.6"/><circle cx="851.95" cy="235.70" r="1.6"/><circle cx="857.83" cy="221.40" r="1.6"/><circle cx="863.72" cy="217.30" r="1.6"/><circle cx="869.61" cy="197.20" r="1.6"/><circle cx="875.49" cy="185.20" r="1.6"/><circle cx="881.38" cy="161.60" r="1.6"/><circle cx="887.27" cy="150.50" r="1.6"/><circle cx="893.16" cy="153.50" r="1.6"/><circle cx="899.04" cy="154.30" r="1.6"/><circle cx="904.93" cy="170.20" r="1.6"/><circle cx="910.82" cy="197.50" r="1.6"/><circle cx="916.70" cy="223.40" r="1.6"/><circle cx="922.59" cy="218.90" r="1.6"/><circle cx="928.48" cy="236.60" r="1.6"/><circle cx="934.36" cy="238.20" r="1.6"/><circle cx="940.25" cy="245.00" r="1.6"/><circle cx="946.14" cy="237.80" r="1.6"/><circle cx="952.03" cy="245.50" r="1.6"/><circle cx="957.91" cy="225.90" r="1.6"/><circle cx="963.80" cy="187.70" r="1.6"/><circle cx="969.69" cy="172.00" r="1.6"/><circle cx="975.57" cy="183.60" r="1.6"/><circle cx="981.46" cy="174.10" r="1.6"/><circle cx="987.35" cy="186.10" r="1.6"/><circle cx="993.23" cy="194.20" r="1.6"/><circle cx="999.12" cy="207.50" r="1.6"/><circle cx="1005.01" cy="213.80" r="1.6"/><circle cx="1010.90" cy="210.50" r="1.6"/><circle cx="1016.78" cy="184.70" r="1.6"/><circle cx="1022.67" cy="177.50" r="1.6"/><circle cx="1028.56" cy="153.00" r="1.6"/><circle cx="1034.44" cy="157.00" r="1.6"/><circle cx="1040.33" cy="161.80" r="1.6"/><circle cx="1046.22" cy="190.50" r="1.6"/><circle cx="1052.11" cy="204.00" r="1.6"/><circle cx="1057.99" cy="224.50" r="1.6"/><circle cx="1063.88" cy="230.00" r="1.6"/></g>
<polyline points="80.75,344.00 86.64,360.50 92.52,370.00 98.41,362.80 104.30,352.00 110.19,346.50 116.07,331.20 121.96,322.80 127.85,311.50 133.73,318.00 139.62,318.00 145.51,295.50 151.39,279.50 157.28,263.20 163.17,258.80 169.06,251.30 174.94,243.70 180.83,241.40 186.72,238.40 192.60,246.10 198.49,253.00 204.38,270.70 210.26,280.60 216.15,288.00 222.04,291.80 227.92,293.90 233.81,292.10 239.70,297.30 245.59,299.30 251.47,287.00 257.36,260.70 263.25,238.00 269.13,230.50 275.02,231.10 280.91,219.30 286.79,205.70 292.68,189.30 298.57,183.20 304.46,177.50 310.34,178.40 316.23,194.10 322.12,233.20 328.00,249.80 333.89,262.50 339.78,270.70 345.66,285.00 351.55,290.50 357.44,308.90 363.33,312.10 369.21,325.50 375.10,332.50 380.99,357.70 386.87,367.70 392.76,372.10 398.65,389.30 404.53,405.80 410.42,411.20 416.31,421.20 422.20,430.50 428.08,429.40 433.97,421.20 439.86,416.50 445.74,413.40 451.63,421.60 457.52,433.20 463.40,440.70 469.29,439.70 475.18,438.90 481.07,440.70 486.95,439.30 492.84,440.40 498.73,439.30 504.61,440.00 510.50,440.00 516.39,434.80 522.27,429.80 528.16,420.90 534.05,420.20 539.94,414.10 545.82,416.10 551.71,415.50 557.60,427.70 563.48,427.70 569.37,410.90 575.26,390.70 581.14,382.10 587.03,370.20 592.92,367.10 598.81,361.10 604.69,356.60 610.58,331.40 616.47,303.50 622.35,289.50 628.24,282.70 634.13,265.00 640.01,249.50 645.90,236.60 651.79,225.40 657.68,216.00 663.56,207.00 669.45,201.10 675.34,192.00 681.22,180.00 687.11,179.40 693.00,169.10 698.88,166.20 704.77,165.00 710.66,164.00 716.55,165.40 722.43,166.10 728.32,165.10 734.21,165.70 740.09,172.40 745.98,178.50 751.87,172.30 757.75,170.80 763.64,175.90 769.53,177.30 775.42,175.20 781.30,182.60 787.19,188.90 793.08,206.10 798.96,248.80 804.85,259.00 810.74,250.30 816.62,239.40 822.51,241.80 828.40,242.50 834.29,261.10 840.17,284.50 846.06,285.90 851.95,274.70 857.83,253.30 863.72,246.20 869.61,262.50 875.49,283.90 881.38,315.60 887.27,344.60 893.16,348.80 899.04,361.20 904.93,372.00 910.82,374.50 916.70,376.00 922.59,372.00 928.48,365.00 934.36,346.80 940.25,329.70 946.14,310.20 952.03,281.20 957.91,259.10 963.80,259.10 969.69,244.40 975.57,243.00 981.46,248.50 987.35,258.30 993.23,255.30 999.12,238.90 1005.01,213.60 1010.90,210.60 1016.78,207.50 1022.67,198.30 1028.56,199.40 1034.44,181.60 1040.33,185.60 1046.22,201.30 1052.11,227.30 1057.99,241.00 1063.88,255.00" transform="translate(0.70,0.70)" fill="none" stroke="#000" stroke-opacity="0.3" stroke-width="2.25" stroke-linejoin="round" stroke-linecap="round"/>
<polyline points="80.75,344.00 86.64,360.50 92.52,370.00 98.41,362.80 104.30,352.00 110.19,346.50 116.07,331.20 121.96,322.80 127.85,311.50 133.73,318.00 139.62,318.00 145.51,295.50 151.39,279.50 157.28,263.20 163.17,258.80 169.06,251.30 174.94,243.70 180.83,241.40 186.72,238.40 192.60,246.10 198.49,253.00 204.38,270.70 210.26,280.60 216.15,288.00 222.04,291.80 227.92,293.90 233.81,292.10 239.70,297.30 245.59,299.30 251.47,287.00 257.36,260.70 263.25,238.00 269.13,230.50 275.02,231.10 280.91,219.30 286.79,205.70 292.68,189.30 298.57,183.20 304.46,177.50 310.34,178.40 316.23,194.10 322.12,233.20 328.00,249.80 333.89,262.50 339.78,270.70 345.66,285.00 351.55,290.50 357.44,308.90 363.33,312.10 369.21,325.50 375.10,332.50 380.99,357.70 386.87,367.70 392.76,372.10 398.65,389.30 404.53,405.80 410.42,411.20 416.31,421.20 422.20,430.50 428.08,429.40 433.97,421.20 439.86,416.50 445.74,413.40 451.63,421.60 457.52,433.20 463.40,440.70 469.29,439.70 475.18,438.90 481.07,440.70 486.95,439.30 492.84,440.40 498.73,439.30 504.61,440.00 510.50,440.00 516.39,434.80 522.27,429.80 528.16,420.90 534.05,420.20 539.94,414.10 545.82,416.10 551.71,415.50 557.60,427.70 563.48,427.70 569.37,410.90 575.26,390.70 581.14,382.10 587.03,370.20 592.92,367.10 598.81,361.10 604.69,356.60 610.58,331.40 616.47,303.50 622.35,289.50 628.24,282.70 634.13,265.00 640.01,249.50 645.90,236.60 651.79,225.40 657.68,216.00 663.56,207.00 669.45,201.10 675.34,192.00 681.22,180.00 687.11,179.40 693.00,169.10 698.88,166.20 704.77,165.00 710.66,164.00 716.55,165.40 722.43,166.10 728.32,165.10 734.21,165.70 740.09,172.40 745.98,178.50 751.87,172.30 757.75,170.80 763.64,175.90 769.53,177.30 775.42,175.20 781.30,182.60 787.19,188.90 793.08,206.10 798.96,248.80 804.85,259.00 810.74,250.30 816.62,239.40 822.51,241.80 828.40,242.50 834.29,261.10 840.17,284.50 846.06,285.90 851.95,274.70 857.83,253.30 863.72,246.20 869.61,262.50 875.49,283.90 881.38,315.60 887.27,344.60 893.16,348.80 899.04,361.20 904.93,372.00 910.82,374.50 916.70,376.00 922.59,372.00 928.48,365.00 934.36,346.80 940.25,329.70 946.14,310.20 952.03,281.20 957.91,259.10 963.80,259.10 969.69,244.40 975.57,243.00 981.46,248.50 987.35,258.30 993.23,255.30 999.12,238.90 1005.01,213.60 1010.90,210.60 1016.78,207.50 1022.67,198.30 1028.56,199.40 1034.44,181.60 1040.33,185.60 1046.22,201.30 1052.11,227.30 1057.99,241.00 1063.88,255.00" transform="translate(1.40,1.40)" fill="none" stroke="#000" stroke-opacity="0.15" stroke-width="2.25" stroke-linejoin="round" stroke-linecap="round"/>
<polyline points="80.75,344.00 86.64,360.50 92.52,370.00 98.41,362.80 104.30,352.00 110.19,346.50 116.07,331.20 121.96,322.80 127.85,311.50 133.73,318.00 139.62,318.00 145.51,295.50 151.39,279.50 157.28,263.20 163.17,258.80 169.06,251.30 174.94,243.70 180.83,241.40 186.72,238.40 192.60,246.10 198.49,253.00 204.38,270.70 210.26,280.60 216.15,288.00 222.04,291.80 227.92,293.90 233.81,292.10 239.70,297.30 245.59,299.30 251.47,287.00 257.36,260.70 263.25,238.00 269.13,230.50 275.02,231.10 280.91,219.30 286.79,205.70 292.68,189.30 298.57,183.20 304.46,177.50 310.34,178.40 316.23,194.10 322.12,233.20 328.00,249.80 333.89,262.50 339.78,270.70 345.66,285.00 351.55,290.50 357.44,308.90 363.33,312.10 369.21,325.50 375.10,332.50 380.99,357.70 386.87,367.70 392.76,372.10 398.65,389.30 404.53,405.80 410.42,411.20 416.31,421.20 422.20,430.50 428.08,429.40 433.97,421.20 439.86,416.50 445.74,413.40 451.63,421.60 457.52,433.20 463.40,440.70 469.29,439.70 475.18,438.90 481.07,440.70 486.95,439.30 492.84,440.40 498.73,439.30 504.61,440.00 510.50,440.00 516.39,434.80 522.27,429.80 528.16,420.90 534.05,420.20 539.94,414.10 545.82,416.10 551.71,415.50 557.60,427.70 563.48,427.70 569.37,410.90 575.26,390.70 581.14,382.10 587.03,370.20 592.92,367.10 598.81,361.10 604.69,356.60 610.58,331.40 616.47,303.50 622.35,289.50 628.24,282.70 634.13,265.00 640.01,249.50 645.90,236.60 651.79,225.40 657.68,216.00 663.56,207.00 669.45,201.10 675.34,192.00 681.22,180.00 687.11,179.40 693.00,169.10 698.88,166.20 704.77,165.00 710.66,164.00 716.55,165.40 722.43,166.10 728.32,165.10 734.21,165.70 740.09,172.40 745.98,178.50 751.87,172.30 757.75,170.80 763.64,175.90 769.53,177.30 775.42,175.20 781.30,182.60 787.19,188.90 793.08,206.10 798.96,248.80 804.85,259.00 810.74,250.30 816.62,239.40 822.51,241.80 828.40,242.50 834.29,261.10 840.17,284.50 846.06,285.90 851.95,274.70 857.83,253.30 863.72,246.20 869.61,262.50 875.49,283.90 881.38,315.60 887.27,344.60 893.16,348.80 899.04,361.20 904.93,372.00 910.82,374.50 916.70,376.00 922.59,372.00 928.48,365.00 934.36,346.80 940.25,329.70 946.14,310.20 952.03,281.20 957.91,259.10 963.80,259.10 969.69,244.40 975.57,243.00 981.46,248.50 987.35,258.30 993.23,255.30 999.12,238.90 1005.01,213.60 1010.90,210.60 1016.78,207.50 1022.67,198.30 1028.56,199.40 1034.44,181.60 1040.33,185.60 1046.22,201.30 1052.11,227.30 1057.99,241.00 1063.88,255.00" fill="none" stroke="#cc0cac" stroke-width="2.25" stroke-linejoin="round" stroke-linecap="round"/>
<g fill="#000" fill-opacity="0.35"><circle cx="81.65" cy="344.90" r="1.6"/><circle cx="87.54" cy="361.40" r="1.6"/><circle cx="93.42" cy="370.90" r="1.6"/><circle cx="99.31" cy="363.70" r="1.6"/><circle cx="105.20" cy="352.90" r="1.6"/><circle cx="111.09" cy="347.40" r="1.6"/><circle cx="116.97" cy="332.10" r="1.6"/><circle cx="122.86" cy="323.70" r="1.6"/><circle cx="128.75" cy="312.40" r="1.6"/><circle cx="134.63" cy="318.90" r="1.6"/><circle cx="140.52" cy="318.90" r="1.6"/><circle cx="146.41" cy="296.40" r="1.6"/><circle cx="152.29" cy="280.40" r="1.6"/><circle cx="158.18" cy="264.10" r="1.6"/><circle cx="164.07" cy="259.70" r="1.6"/><circle cx="169.96" cy="252.20" r="1.6"/><circle cx="175.84" cy="244.60" r="1.6"/><circle cx="181.73" cy="242.30" r="1.6"/><circle cx="187.62" cy="239.30" r="1.6"/><circle cx="193.50" cy="247.00" r="1.6"/><circle cx="199.39" cy="253.90" r="1.6"/><circle cx="205.28" cy="271.60" r="1.6"/><circle cx="211.16" cy="281.50" r="1.6"/><circle cx="217.05" cy="288.90" r="1.6"/><circle cx="222.94" cy="292.70" r="1.6"/><circle cx="228.82" cy="294.80" r="1.6"/><circle cx="234.71" cy="293.00" r="1.6"/><circle cx="240.60" cy="298.20" r="1.6"/><circle cx="246.49" cy="300.20" r="1.6"/><circle cx="252.37" cy="287.90" r="1.6"/><circle cx="258.26" cy="261.60" r="1.6"/><circle cx="264.15" cy="238.90" r="1.6"/><circle cx="270.03" cy="231.40" r="1.6"/><circle cx="275.92" cy="232.00" r="1.6"/><circle cx="281.81" cy="220.20" r="1.6"/><circle cx="287.69" cy="206.60" r="1.6"/><circle cx="293.58" cy="190.20" r="1.6"/><circle cx="299.47" cy="184.10" r="1.6"/><circle cx="305.36" cy="178.40" r="1.6"/><circle cx="311.24" cy="179.30" r="1.6"/><circle cx="317.13" cy="195.00" r="1.6"/><circle cx="323.02" cy="234.10" r="1.6"/><circle cx="328.90" cy="250.70" r="1.6"/><circle cx="334.79" cy="263.40" r="1.6"/><circle cx="340.68" cy="271.60" r="1.6"/><circle cx="346.56" cy="285.90" r="1.6"/><circle cx="352.45" cy="291.40" r="1.6"/><circle cx="358.34" cy="309.80" r="1.6"/><circle cx="364.23" cy="313.00" r="1.6"/><circle cx="370.11" cy="326.40" r="1.6"/><circle cx="376.00" cy="333.40" r="1.6"/><circle cx="381.89" cy="358.60" r="1.6"/><circle cx="387.77" cy="368.60" r="1.6"/><circle cx="393.66" cy="373.00" r="1.6"/><circle cx="399.55" cy="390.20" r="1.6"/><circle cx="405.43" cy="406.70" r="1.6"/><circle cx="411.32" cy="412.10" r="1.6"/><circle cx="417.21" cy="422.10" r="1.6"/><circle cx="423.10" cy="431.40" r="1.6"/><circle cx="428.98" cy="430.30" r="1.6"/><circle cx="434.87" cy="422.10" r="1.6"/><circle cx="440.76" cy="417.40" r="1.6"/><circle cx="446.64" cy="414.30" r="1.6"/><circle cx="452.53" cy="422.50" r="1.6"/><circle cx="458.42" cy="434.10" r="1.6"/><circle cx="464.30" cy="441.60" r="1.6"/><circle cx="470.19" cy="440.60" r="1.6"/><circle cx="476.08" cy="439.80" r="1.6"/><circle cx="481.97" cy="441.60" r="1.6"/><circle cx="487.85" cy="440.20" r="1.6"/><circle cx="493.74" cy="441.30" r="1.6"/><circle cx="499.63" cy="440.20" r="1.6"/><circle cx="505.51" cy="440.90" r="1.6"/><circle cx="511.40" cy="440.90" r="1.6"/><circle cx="517.29" cy="435.70" r="1.6"/><circle cx="523.17" cy="430.70" r="1.6"/><circle cx="529.06" cy="421.80" r="1.6"/><circle cx="534.95" cy="421.10" r="1.6"/><circle cx="540.84" cy="415.00" r="1.6"/><circle cx="546.72" cy="417.00" r="1.6"/><circle cx="552.61" cy="416.40" r="1.6"/><circle cx="558.50" cy="428.60" r="1.6"/><circle cx="564.38" cy="428.60" r="1.6"/><circle cx="570.27" cy="411.80" r="1.6"/><circle cx="576.16" cy="391.60" r="1.6"/><circle cx="582.04" cy="383.00" r="1.6"/><circle cx="587.93" cy="371.10" r="1.6"/><circle cx="593.82" cy="368.00" r="1.6"/><circle cx="599.71" cy="362.00" r="1.6"/><circle cx="605.59" cy="357.50" r="1.6"/><circle cx="611.48" cy="332.30" r="1.6"/><circle cx="617.37" cy="304.40" r="1.6"/><circle cx="623.25" cy="290.40" r="1.6"/><circle cx="629.14" cy="283.60" r="1.6"/><circle cx="635.03" cy="265.90" r="1.6"/><circle cx="640.91" cy="250.40" r="1.6"/><circle cx="646.80" cy="237.50" r="1.6"/><circle cx="652.69" cy="226.30" r="1.6"/><circle cx="658.58" cy="216.90" r="1.6"/><circle cx="664.46" cy="207.90" r="1.6"/><circle cx="670.35" cy="202.00" r="1.6"/><circle cx="676.24" cy="192.90" r="1.6"/><circle cx="682.12" cy="180.90" r="1.6"/><circle cx="688.01" cy="180.30" r="1.6"/><circle cx="693.90" cy="170.00" r="1.6"/><circle cx="699.78" cy="167.10" r="1.6"/><circle cx="705.67" cy="165.90" r="1.6"/><circle cx="711.56" cy="164.90" r="1.6"/><circle cx="717.45" cy="166.30" r="1.6"/><circle cx="723.33" cy="167.00" r="1.6"/><circle cx="729.22" cy="166.00" r="1.6"/><circle cx="735.11" cy="166.60" r="1.6"/><circle cx="740.99" cy="173.30" r="1.6"/><circle cx="746.88" cy="179.40" r="1.6"/><circle cx="752.77" cy="173.20" r="1.6"/><circle cx="758.65" cy="171.70" r="1.6"/><circle cx="764.54" cy="176.80" r="1.6"/><circle cx="770.43" cy="178.20" r="1.6"/><circle cx="776.32" cy="176.10" r="1.6"/><circle cx="782.20" cy="183.50" r="1.6"/><circle cx="788.09" cy="189.80" r="1.6"/><circle cx="793.98" cy="207.00" r="1.6"/><circle cx="799.86" cy="249.70" r="1.6"/><circle cx="805.75" cy="259.90" r="1.6"/><circle cx="811.64" cy="251.20" r="1.6"/><circle cx="817.52" cy="240.30" r="1.6"/><circle cx="823.41" cy="242.70" r="1.6"/><circle cx="829.30" cy="243.40" r="1.6"/><circle cx="835.19" cy="262.00" r="1.6"/><circle cx="841.07" cy="285.40" r="1.6"/><circle cx="846.96" cy="286.80" r="1.6"/><circle cx="852.85" cy="275.60" r="1.6"/><circle cx="858.73" cy="254.20" r="1.6"/><circle cx="864.62" cy="247.10" r="1.6"/><circle cx="870.51" cy="263.40" r="1.6"/><circle cx="876.39" cy="284.80" r="1.6"/><circle cx="882.28" cy="316.50" r="1.6"/><circle cx="888.17" cy="345.50" r="1.6"/><circle cx="894.06" cy="349.70" r="1.6"/><circle cx="899.94" cy="362.10" r="1.6"/><circle cx="905.83" cy="372.90" r="1.6"/><circle cx="911.72" cy="375.40" r="1.6"/><circle cx="917.60" cy="376.90" r="1.6"/><circle cx="923.49" cy="372.90" r="1.6"/><circle cx="929.38" cy="365.90" r="1.6"/><circle cx="935.26" cy="347.70" r="1.6"/><circle cx="941.15" cy="330.60" r="1.6"/><circle cx="947.04" cy="311.10" r="1.6"/><circle cx="952.93" cy="282.10" r="1.6"/><circle cx="958.81" cy="260.00" r="1.6"/><circle cx="964.70" cy="260.00" r="1.6"/><circle cx="970.59" cy="245.30" r="1.6"/><circle cx="976.47" cy="243.90" r="1.6"/><circle cx="982.36" cy="249.40" r="1.6"/><circle cx="988.25" cy="259.20" r="1.6"/><circle cx="994.13" cy="256.20" r="1.6"/><circle cx="1000.02" cy="239.80" r="1.6"/><circle cx="1005.91" cy="214.50" r="1.6"/><circle cx="1011.80" cy="211.50" r="1.6"/><circle cx="1017.68" cy="208.40" r="1.6"/><circle cx="1023.57" cy="199.20" r="1.6"/><circle cx="1029.46" cy="200.30" r="1.6"/><circle cx="1035.34" cy="182.50" r="1.6"/><circle cx="1041.23" cy="186.50" r="1.6"/><circle cx="1047.12" cy="202.20" r="1.6"/><circle cx="1053.01" cy="228.20" r="1.6"/><circle cx="1058.89" cy="241.90" r="1.6"/><circle cx="1064.78" cy="255.90" r="1.6"/></g>
<g fill="#cc0cac"><circle cx="80.75" cy="344.00" r="1.6"/><circle cx="86.64" cy="360.50" r="1.6"/><circle cx="92.52" cy="370.00" r="1.6"/><circle cx="98.41" cy="362.80" r="1.6"/><circle cx="104.30" cy="352.00" r="1.6"/><circle cx="110.19" cy="346.50" r="1.6"/><circle cx="116.07" cy="331.20" r="1.6"/><circle cx="121.96" cy="322.80" r="1.6"/><circle cx="127.85" cy="311.50" r="1.6"/><circle cx="133.73" cy="318.00" r="1.6"/><circle cx="139.62" cy="318.00" r="1.6"/><circle cx="145.51" cy="295.50" r="1.6"/><circle cx="151.39" cy="279.50" r="1.6"/><circle cx="157.28" cy="263.20" r="1.6"/><circle cx="163.17" cy="258.80" r="1.6"/><circle cx="169.06" cy="251.30" r="1.6"/><circle cx="174.94" cy="243.70" r="1.6"/><circle cx="180.83" cy="241.40" r="1.6"/><circle cx="186.72" cy="238.40" r="1.6"/><circle cx="192.60" cy="246.10" r="1.6"/><circle cx="198.49" cy="253.00" r="1.6"/><circle cx="204.38" cy="270.70" r="1.6"/><circle cx="210.26" cy="280.60" r="1.6"/><circle cx="216.15" cy="288.00" r="1.6"/><circle cx="222.04" cy="291.80" r="1.6"/><circle cx="227.92" cy="293.90" r="1.6"/><circle cx="233.81" cy="292.10" r="1.6"/><circle cx="239.70" cy="297.30" r="1.6"/><circle cx="245.59" cy="299.30" r="1.6"/><circle cx="251.47" cy="287.00" r="1.6"/><circle cx="257.36" cy="260.70" r="1.6"/><circle cx="263.25" cy="238.00" r="1.6"/><circle cx="269.13" cy="230.50" r="1.6"/><circle cx="275.02" cy="231.10" r="1.6"/><circle cx="280.91" cy="219.30" r="1.6"/><circle cx="286.79" cy="205.70" r="1.6"/><circle cx="292.68" cy="189.30" r="1.6"/><circle cx="298.57" cy="183.20" r="1.6"/><circle cx="304.46" cy="177.50" r="1.6"/><circle cx="310.34" cy="178.40" r="1.6"/><circle cx="316.23" cy="194.10" r="1.6"/><circle cx="322.12" cy="233.20" r="1.6"/><circle cx="328.00" cy="249.80" r="1.6"/><circle cx="333.89" cy="262.50" r="1.6"/><circle cx="339.78" cy="270.70" r="1.6"/><circle cx="345.66" cy="285.00" r="1.6"/><circle cx="351.55" cy="290.50" r="1.6"/><circle cx="357.44" cy="308.90" r="1.6"/><circle cx="363.33" cy="312.10" r="1.6"/><circle cx="369.21" cy="325.50" r="1.6"/><circle cx="375.10" cy="332.50" r="1.6"/><circle cx="380.99" cy="357.70" r="1.6"/><circle cx="386.87" cy="367.70" r="1.6"/><circle cx="392.76" cy="372.10" r="1.6"/><circle cx="398.65" cy="389.30" r="1.6"/><circle cx="404.53" cy="405.80" r="1.6"/><circle cx="410.42" cy="411.20" r="1.6"/><circle cx="416.31" cy="421.20" r="1.6"/><circle cx="422.20" cy="430.50" r="1.6"/><circle cx="428.08" cy="429.40" r="1.6"/><circle cx="433.97" cy="421.20" r="1.6"/><circle cx="439.86" cy="416.50" r="1.6"/><circle cx="445.74" cy="413.40" r="1.6"/><circle cx="451.63" cy="421.60" r="1.6"/><circle cx="457.52" cy="433.20" r="1.6"/><circle cx="463.40" cy="440.70" r="1.6"/><circle cx="469.29" cy="439.70" r="1.6"/><circle cx="475.18" cy="438.90" r="1.6"/><circle cx="481.07" cy="440.70" r="1.6"/><circle cx="486.95" cy="439.30" r="1.6"/><circle cx="492.84" cy="440.40" r="1.6"/><circle cx="498.73" cy="439.30" r="1.6"/><circle cx="504.61" cy="440.00" r="1.6"/><circle cx="510.50" cy="440.00" r="1.6"/><circle cx="516.39" cy="434.80" r="1.6"/><circle cx="522.27" cy="429.80" r="1.6"/><circle cx="528.16" cy="420.90" r="1.6"/><circle cx="534.05" cy="420.20" r="1.6"/><circle cx="539.94" cy="414.10" r="1.6"/><circle cx="545.82" cy="416.10" r="1.6"/><circle cx="551.71" cy="415.50" r="1.6"/><circle cx="557.60" cy="427.70" r="1.6"/><circle cx="563.48" cy="427.70" r="1.6"/><circle cx="569.37" cy="410.90" r="1.6"/><circle cx="575.26" cy="390.70" r="1.6"/><circle cx="581.14" cy="382.10" r="1.6"/><circle cx="587.03" cy="370.20" r="1.6"/><circle cx="592.92" cy="367.10" r="1.6"/><circle cx="598.81" cy="361.10" r="1.6"/><circle cx="604.69" cy="356.60" r="1.6"/><circle cx="610.58" cy="331.40" r="1.6"/><circle cx="616.47" cy="303.50" r="1.6"/><circle cx="622.35" cy="289.50" r="1.6"/><circle cx="628.24" cy="282.70" r="1.6"/><circle cx="634.13" cy="265.00" r="1.6"/><circle cx="640.01" cy="249.50" r="1.6"/><circle cx="645.90" cy="236.60" r="1.6"/><circle cx="651.79" cy="225.40" r="1.6"/><circle cx="657.68" cy="216.00" r="1.6"/><circle cx="663.56" cy="207.00" r="1.6"/><circle cx="669.45" cy="201.10" r="1.6"/><circle cx="675.34" cy="192.00" r="1.6"/><circle cx="681.22" cy="180.00" r="1.6"/><circle cx="687.11" cy="179.40" r="1.6"/><circle cx="693.00" cy="169.10" r="1.6"/><circle cx="698.88" cy="166.20" r="1.6"/><circle cx="704.77" cy="165.00" r="1.6"/><circle cx="710.66" cy="164.00" r="1.6"/><circle cx="716.55" cy="165.40" r="1.6"/><circle cx="722.43" cy="166.10" r="1.6"/><circle cx="728.32" cy="165.10" r="1.6"/><circle cx="734.21" cy="165.70" r="1.6"/><circle cx="740.09" cy="172.40" r="1.6"/><circle cx="745.98" cy="178.50" r="1.6"/><circle cx="751.87" cy="172.30" r="1.6"/><circle cx="757.75" cy="170.80" r="1.6"/><circle cx="763.64" cy="175.90" r="1.6"/><circle cx="769.53" cy="177.30" r="1.6"/><circle cx="775.42" cy="175.20" r="1.6"/><circle cx="781.30" cy="182.60" r="1.6"/><circle cx="787.19" cy="188.90" r="1.6"/><circle cx="793.08" cy="206.10" r="1.6"/><circle cx="798.96" cy="248.80" r="1.6"/><circle cx="804.85" cy="259.00" r="1.6"/><circle cx="810.74" cy="250.30" r="1.6"/><circle cx="816.62" cy="239.40" r="1.6"/><circle cx="822.51" cy="241.80" r="1.6"/><circle cx="828.40" cy="242.50" r="1.6"/><circle cx="834.29" cy="261.10" r="1.6"/><circle cx="840.17" cy="284.50" r="1.6"/><circle cx="846.06" cy="285.90" r="1.6"/><circle cx="851.95" cy="274.70" r="1.6"/><circle cx="857.83" cy="253.30" r="1.6"/><circle cx="863.72" cy="246.20" r="1.6"/><circle cx="869.61" cy="262.50" r="1.6"/><circle cx="875.49" cy="283.90" r="1.6"/><circle cx="881.38" cy="315.60" r="1.6"/><circle cx="887.27" cy="344.60" r="1.6"/><circle cx="893.16" cy="348.80" r="1.6"/><circle cx="899.04" cy="361.20" r="1.6"/><circle cx="904.93" cy="372.00" r="1.6"/><circle cx="910.82" cy="374.50" r="1.6"/><circle cx="916.70" cy="376.00" r="1.6"/><circle cx="922.59" cy="372.00" r="1.6"/><circle cx="928.48" cy="365.00" r="1.6"/><circle cx="934.36" cy="346.80" r="1.6"/><circle cx="940.25" cy="329.70" r="1.6"/><circle cx="946.14" cy="310.20" r="1.6"/><circle cx="952.03" cy="281.20" r="1.6"/><circle cx="957.91" cy="259.10" r="1.6"/><circle cx="963.80" cy="259.10" r="1.6"/><circle cx="969.69" cy="244.40" r="1.6"/><circle cx="975.57" cy="243.00" r="1.6"/><circle cx="981.46" cy="248.50" r="1.6"/><circle cx="987.35" cy="258.30" r="1.6"/><circle cx="993.23" cy="255.30" r="1.6"/><circle cx="999.12" cy="238.90" r="1.6"/><circle cx="1005.01" cy="213.60" r="1.6"/><circle cx="1010.90" cy="210.60" r="1.6"/><circle cx="1016.78" cy="207.50" r="1.6"/><circle cx="1022.67" cy="198.30" r="1.6"/><circle cx="1028.56" cy="199.40" r="1.6"/><circle cx="1034.44" cy="181.60" r="1.6"/><circle cx="1040.33" cy="185.60" r="1.6"/><circle cx="1046.22" cy="201.30" r="1.6"/><circle cx="1052.11" cy="227.30" r="1.6"/><circle cx="1057.99" cy="241.00" r="1.6"/><circle cx="1063.88" cy="255.00" r="1.6"/></g>
<line x1="80.5" y1="41" x2="80.5" y2="459" stroke="#d2d2d2" stroke-width="1"/>
<g font-family='"Liberation Sans", Arial, sans-serif' font-size="13" fill="#000"><text transform="translate(66.5,44.6) scale(1,1.09)" text-anchor="end">6,000</text><text transform="translate(66.5,113.6) scale(1,1.09)" text-anchor="end">5,000</text><text transform="translate(66.5,182.6) scale(1,1.09)" text-anchor="end">4,000</text><text transform="translate(66.5,251.6) scale(1,1.09)" text-anchor="end">3,000</text><text transform="translate(66.5,319.6) scale(1,1.09)" text-anchor="end">2,000</text><text transform="translate(66.5,388.6) scale(1,1.09)" text-anchor="end">1,000</text><text transform="translate(66.5,457.6) scale(1,1.09)" text-anchor="end">0</text><text transform="translate(79.3,474) scale(1,1.09)" text-anchor="middle">Oct 30</text><text transform="translate(221.3,474) scale(1,1.09)" text-anchor="middle">Oct 31</text><text transform="translate(362.3,474) scale(1,1.09)" text-anchor="middle">Nov 1</text><text transform="translate(503.3,474) scale(1,1.09)" text-anchor="middle">Nov 2</text><text transform="translate(644.3,474) scale(1,1.09)" text-anchor="middle">Nov 3</text><text transform="translate(786.3,474) scale(1,1.09)" text-anchor="middle">Nov 4</text><text transform="translate(927.3,474) scale(1,1.09)" text-anchor="middle">Nov 5</text><text transform="translate(1068.3,474) scale(1,1.09)" text-anchor="middle">Nov 6</text><text transform="translate(13,247) rotate(-90) scale(1,1.09)" text-anchor="middle">MW</text></g>
<g font-family='"Liberation Sans", Arial, sans-serif' font-size="13" fill="#000"><rect x="291.5" y="11.5" width="22" height="9" fill="#1500ff" stroke="#000" stroke-width="1"/><text transform="translate(318,20) scale(1,1.09)">Gas Gen</text><rect x="389.5" y="11.5" width="22" height="9" fill="#00ff00" stroke="#000" stroke-width="1"/><text transform="translate(416,20) scale(1,1.09)">Hydro &gt;20MW Gen</text><rect x="550.5" y="11.5" width="22" height="9" fill="#ff0000" stroke="#000" stroke-width="1"/><text transform="translate(577.5,20) scale(1,1.09)">Other Gen</text><rect x="657.5" y="11.5" width="22" height="9" fill="#cc0cac" stroke="#000" stroke-width="1"/><text transform="translate(684,20) scale(1,1.09)">Wind Gen</text></g>
</svg>
</body></html>
